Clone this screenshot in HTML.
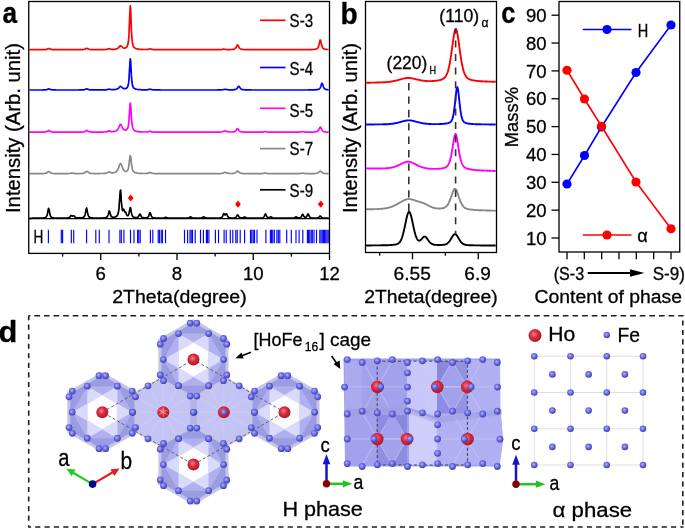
<!DOCTYPE html>
<html><head><meta charset="utf-8"><style>html,body{margin:0;padding:0;background:#fff;}svg{display:block;will-change:transform;}text{font-family:"Liberation Sans",sans-serif;stroke:#000;stroke-width:0.3px;}</style></head>
<body><svg width="685" height="528" viewBox="0 0 685 528">
<rect width="685" height="528" fill="#fff"/>
<polyline points="29.4,49.7 29.8,49.7 30.2,49.7 30.6,49.7 31.0,49.7 31.4,49.7 31.8,49.7 32.1,49.7 32.6,49.7 33.0,49.7 33.4,49.7 33.8,49.7 34.2,49.7 34.6,49.7 35.0,49.7 35.4,49.7 35.8,49.7 36.2,49.7 36.6,49.7 37.0,49.7 37.4,49.7 37.8,49.7 38.2,49.7 38.6,49.7 39.0,49.7 39.4,49.7 39.8,49.7 40.2,49.7 40.6,49.7 41.0,49.7 41.4,49.7 41.8,49.7 42.2,49.7 42.6,49.7 43.0,49.7 43.4,49.7 43.8,49.7 44.2,49.6 44.6,49.6 45.0,49.6 45.4,49.6 45.8,49.5 46.2,49.4 46.5,49.4 47.0,49.2 47.4,49.0 47.8,48.8 48.2,48.6 48.6,48.5 49.0,48.5 49.4,48.6 49.8,48.8 50.2,49.0 50.6,49.2 51.0,49.4 51.4,49.4 51.8,49.5 52.2,49.6 52.6,49.6 53.0,49.6 53.4,49.6 53.8,49.7 54.2,49.7 54.6,49.7 55.0,49.7 55.4,49.7 55.8,49.7 56.2,49.7 56.6,49.7 57.0,49.7 57.4,49.7 57.8,49.7 58.2,49.7 58.6,49.7 59.0,49.7 59.4,49.7 59.8,49.7 60.2,49.7 60.6,49.7 61.0,49.7 61.4,49.7 61.8,49.7 62.2,49.7 62.6,49.7 63.0,49.7 63.4,49.7 63.8,49.7 64.2,49.7 64.6,49.7 65.0,49.7 65.3,49.7 65.8,49.7 66.2,49.7 66.6,49.7 67.0,49.7 67.3,49.7 67.8,49.7 68.2,49.7 68.6,49.7 69.0,49.7 69.3,49.7 69.8,49.7 70.2,49.7 70.6,49.7 71.0,49.7 71.3,49.7 71.8,49.7 72.2,49.7 72.6,49.7 73.0,49.7 73.3,49.7 73.8,49.7 74.2,49.7 74.6,49.7 75.0,49.7 75.3,49.7 75.8,49.7 76.2,49.7 76.6,49.7 77.0,49.7 77.3,49.7 77.8,49.7 78.2,49.7 78.6,49.7 79.0,49.7 79.3,49.7 79.8,49.7 80.2,49.7 80.6,49.7 81.0,49.7 81.3,49.6 81.8,49.6 82.2,49.6 82.6,49.6 83.0,49.6 83.3,49.5 83.8,49.5 84.2,49.4 84.6,49.3 85.0,49.2 85.3,49.0 85.8,48.7 86.2,48.5 86.6,48.3 87.0,48.3 87.3,48.5 87.8,48.7 88.2,49.0 88.6,49.1 89.0,49.3 89.3,49.4 89.8,49.5 90.2,49.5 90.6,49.6 91.0,49.6 91.3,49.6 91.8,49.6 92.2,49.6 92.6,49.6 93.0,49.6 93.3,49.6 93.8,49.6 94.2,49.7 94.6,49.7 95.0,49.7 95.3,49.7 95.8,49.7 96.2,49.7 96.6,49.7 97.0,49.7 97.3,49.7 97.8,49.7 98.2,49.7 98.6,49.7 99.0,49.7 99.3,49.7 99.8,49.6 100.2,49.6 100.6,49.6 101.0,49.6 101.3,49.6 101.8,49.6 102.2,49.6 102.6,49.6 103.0,49.6 103.3,49.6 103.8,49.6 104.2,49.6 104.6,49.6 105.0,49.5 105.3,49.5 105.8,49.5 106.2,49.5 106.6,49.4 107.0,49.3 107.3,49.2 107.8,49.1 108.2,48.9 108.6,48.8 109.0,48.7 109.3,48.7 109.8,48.8 110.2,49.0 110.6,49.1 111.0,49.2 111.3,49.3 111.8,49.3 112.2,49.3 112.6,49.3 113.0,49.3 113.3,49.3 113.8,49.3 114.2,49.3 114.6,49.3 115.0,49.2 115.3,49.2 115.8,49.1 116.2,49.0 116.6,48.9 117.0,48.7 117.3,48.6 117.8,48.3 118.2,48.0 118.6,47.6 119.0,47.2 119.3,46.7 119.8,46.2 120.2,45.9 120.6,45.8 121.0,45.9 121.3,46.2 121.8,46.6 122.2,47.0 122.6,47.4 123.0,47.7 123.3,47.9 123.8,48.0 124.2,48.1 124.6,48.1 125.0,48.0 125.3,47.9 125.8,47.7 126.2,47.5 126.6,47.1 127.0,46.6 127.3,45.8 127.8,44.7 128.2,42.8 128.6,39.7 129.0,34.4 129.3,26.1 129.8,15.0 130.2,5.9 130.6,7.5 131.0,17.9 131.3,28.5 131.8,36.1 132.2,40.8 132.6,43.5 133.0,45.2 133.3,46.2 133.8,46.9 134.2,47.4 134.6,47.8 135.0,48.1 135.3,48.3 135.8,48.5 136.2,48.7 136.6,48.8 137.0,48.9 137.3,49.0 137.8,49.1 138.2,49.1 138.6,49.2 139.0,49.2 139.3,49.3 139.8,49.3 140.2,49.3 140.6,49.4 141.0,49.4 141.3,49.4 141.8,49.4 142.2,49.4 142.6,49.5 143.0,49.5 143.3,49.5 143.8,49.5 144.2,49.5 144.6,49.5 145.0,49.5 145.3,49.5 145.8,49.5 146.2,49.5 146.6,49.5 147.0,49.5 147.3,49.4 147.8,49.4 148.2,49.3 148.6,49.2 149.0,49.1 149.3,49.0 149.8,48.9 150.2,48.9 150.6,48.9 151.0,49.1 151.3,49.2 151.8,49.3 152.2,49.4 152.6,49.5 153.0,49.5 153.3,49.6 153.8,49.6 154.2,49.6 154.6,49.6 155.0,49.6 155.3,49.6 155.8,49.6 156.2,49.6 156.6,49.7 157.0,49.7 157.3,49.7 157.8,49.7 158.2,49.7 158.6,49.7 158.9,49.7 159.3,49.7 159.8,49.7 160.2,49.7 160.6,49.7 160.9,49.7 161.3,49.7 161.8,49.7 162.2,49.7 162.6,49.7 162.9,49.7 163.3,49.7 163.8,49.7 164.2,49.7 164.6,49.7 164.9,49.7 165.3,49.7 165.8,49.7 166.2,49.7 166.6,49.7 166.9,49.7 167.3,49.7 167.8,49.7 168.2,49.7 168.6,49.7 168.9,49.7 169.3,49.7 169.8,49.7 170.2,49.7 170.6,49.7 170.9,49.7 171.3,49.7 171.8,49.7 172.2,49.7 172.6,49.7 172.9,49.7 173.3,49.7 173.8,49.7 174.2,49.7 174.6,49.7 174.9,49.7 175.3,49.7 175.8,49.7 176.2,49.7 176.6,49.7 176.9,49.7 177.3,49.7 177.8,49.7 178.2,49.7 178.6,49.7 178.9,49.7 179.3,49.7 179.8,49.7 180.2,49.7 180.6,49.7 180.9,49.7 181.3,49.7 181.8,49.7 182.2,49.7 182.6,49.7 183.0,49.7 183.3,49.7 183.8,49.7 184.2,49.7 184.6,49.7 185.0,49.7 185.3,49.7 185.8,49.7 186.2,49.7 186.6,49.7 187.0,49.7 187.3,49.7 187.8,49.7 188.2,49.7 188.6,49.7 189.0,49.7 189.3,49.7 189.8,49.7 190.2,49.7 190.6,49.7 191.0,49.7 191.3,49.7 191.8,49.7 192.2,49.7 192.6,49.7 193.0,49.7 193.3,49.7 193.8,49.7 194.2,49.7 194.6,49.7 195.0,49.7 195.3,49.7 195.8,49.7 196.2,49.7 196.6,49.7 197.0,49.7 197.3,49.7 197.8,49.7 198.2,49.7 198.6,49.7 199.0,49.7 199.3,49.7 199.8,49.7 200.2,49.7 200.6,49.7 201.0,49.7 201.3,49.7 201.8,49.7 202.2,49.7 202.6,49.7 203.0,49.7 203.3,49.7 203.8,49.7 204.2,49.7 204.6,49.7 205.0,49.7 205.3,49.7 205.8,49.7 206.2,49.7 206.6,49.7 207.0,49.7 207.3,49.7 207.8,49.7 208.2,49.7 208.6,49.7 209.0,49.7 209.3,49.7 209.8,49.7 210.2,49.7 210.6,49.7 211.0,49.7 211.3,49.7 211.8,49.7 212.2,49.7 212.6,49.7 213.0,49.7 213.3,49.7 213.8,49.7 214.2,49.7 214.6,49.7 215.0,49.7 215.3,49.7 215.8,49.7 216.2,49.7 216.6,49.7 217.0,49.7 217.3,49.7 217.8,49.7 218.2,49.7 218.6,49.7 219.0,49.7 219.3,49.7 219.8,49.7 220.2,49.6 220.6,49.6 221.0,49.6 221.3,49.6 221.8,49.5 222.2,49.4 222.6,49.3 223.0,49.2 223.3,49.1 223.8,49.1 224.2,49.1 224.6,49.2 225.0,49.3 225.3,49.4 225.8,49.5 226.2,49.5 226.6,49.6 227.0,49.6 227.3,49.6 227.8,49.6 228.2,49.6 228.6,49.6 229.0,49.6 229.3,49.6 229.8,49.6 230.2,49.6 230.6,49.6 231.0,49.5 231.3,49.5 231.8,49.5 232.2,49.4 232.6,49.4 233.0,49.4 233.3,49.3 233.8,49.2 234.2,49.1 234.6,48.9 235.0,48.6 235.3,48.2 235.8,47.7 236.2,47.1 236.6,46.3 237.0,45.5 237.3,45.0 237.8,45.1 238.2,45.7 238.6,46.5 239.0,47.3 239.3,47.9 239.8,48.4 240.2,48.7 240.6,48.9 241.0,49.1 241.3,49.2 241.8,49.3 242.2,49.4 242.6,49.4 243.0,49.5 243.3,49.5 243.8,49.5 244.2,49.6 244.6,49.6 245.0,49.6 245.3,49.6 245.8,49.6 246.2,49.6 246.6,49.6 247.0,49.6 247.3,49.7 247.8,49.7 248.2,49.7 248.6,49.7 249.0,49.7 249.3,49.7 249.8,49.7 250.2,49.7 250.6,49.7 251.0,49.7 251.3,49.7 251.8,49.7 252.2,49.7 252.6,49.7 253.0,49.7 253.3,49.7 253.8,49.7 254.2,49.7 254.6,49.7 255.0,49.7 255.3,49.7 255.8,49.7 256.2,49.7 256.6,49.7 257.0,49.7 257.4,49.7 257.8,49.7 258.2,49.7 258.6,49.7 259.0,49.7 259.4,49.7 259.8,49.7 260.2,49.7 260.6,49.7 261.0,49.7 261.4,49.7 261.8,49.7 262.2,49.7 262.6,49.7 263.0,49.7 263.4,49.7 263.8,49.7 264.2,49.7 264.6,49.7 265.0,49.7 265.4,49.7 265.8,49.7 266.2,49.7 266.6,49.7 267.0,49.7 267.4,49.7 267.8,49.7 268.2,49.7 268.6,49.7 269.0,49.7 269.4,49.7 269.8,49.7 270.2,49.7 270.6,49.7 271.0,49.7 271.4,49.7 271.8,49.7 272.2,49.7 272.6,49.7 273.0,49.7 273.4,49.7 273.8,49.7 274.2,49.7 274.6,49.7 275.0,49.7 275.4,49.7 275.8,49.7 276.2,49.7 276.6,49.7 277.0,49.7 277.4,49.7 277.8,49.7 278.2,49.7 278.6,49.7 279.0,49.7 279.4,49.7 279.8,49.7 280.2,49.7 280.6,49.7 281.0,49.7 281.4,49.7 281.8,49.7 282.2,49.7 282.6,49.7 283.0,49.7 283.4,49.7 283.8,49.7 284.2,49.7 284.6,49.7 285.0,49.7 285.4,49.7 285.8,49.7 286.2,49.7 286.6,49.7 287.0,49.7 287.4,49.7 287.8,49.7 288.2,49.7 288.6,49.7 289.0,49.7 289.4,49.7 289.8,49.7 290.2,49.7 290.6,49.7 291.0,49.7 291.4,49.7 291.8,49.7 292.2,49.7 292.6,49.7 293.0,49.7 293.4,49.7 293.8,49.7 294.2,49.7 294.6,49.7 295.0,49.7 295.4,49.7 295.8,49.7 296.2,49.7 296.6,49.7 297.0,49.7 297.4,49.7 297.8,49.7 298.2,49.7 298.6,49.7 299.0,49.7 299.4,49.7 299.8,49.7 300.2,49.7 300.6,49.7 301.0,49.7 301.4,49.7 301.8,49.7 302.2,49.7 302.6,49.7 303.0,49.7 303.4,49.7 303.8,49.7 304.2,49.7 304.6,49.7 305.0,49.7 305.4,49.7 305.8,49.7 306.2,49.7 306.6,49.7 307.0,49.7 307.4,49.7 307.8,49.7 308.2,49.7 308.6,49.7 309.0,49.6 309.4,49.6 309.8,49.6 310.2,49.6 310.6,49.6 311.0,49.6 311.4,49.6 311.8,49.6 312.2,49.5 312.6,49.5 313.0,49.5 313.4,49.5 313.8,49.4 314.2,49.4 314.6,49.4 315.0,49.3 315.4,49.2 315.8,49.1 316.2,49.0 316.6,48.9 317.0,48.7 317.4,48.4 317.8,47.9 318.2,47.3 318.6,46.3 319.0,44.8 319.4,43.0 319.8,41.1 320.2,40.0 320.6,40.4 321.0,42.1 321.4,44.0 321.8,45.6 322.2,46.8 322.6,47.6 323.0,48.2 323.4,48.5 323.8,48.8 324.2,49.0 324.6,49.1 325.0,49.2 325.4,49.3 325.8,49.3 326.2,49.4 326.6,49.4 327.0,49.5 327.4,49.5 327.8,49.5 328.2,49.5 328.6,49.6" fill="none" stroke="#ff0000" stroke-width="1.7" stroke-linejoin="round"/>
<polyline points="29.4,90.0 29.8,90.0 30.2,90.0 30.6,90.0 31.0,90.0 31.4,90.0 31.8,90.0 32.1,90.0 32.6,90.0 33.0,90.0 33.4,90.0 33.8,90.0 34.2,90.0 34.6,90.0 35.0,90.0 35.4,90.0 35.8,90.0 36.2,90.0 36.6,90.0 37.0,90.0 37.4,90.0 37.8,90.0 38.2,90.0 38.6,90.0 39.0,90.0 39.4,90.0 39.8,90.0 40.2,90.0 40.6,90.0 41.0,90.0 41.4,90.0 41.8,90.0 42.2,90.0 42.6,89.9 43.0,89.9 43.4,89.9 43.8,89.9 44.2,89.9 44.6,89.9 45.0,89.9 45.4,89.8 45.8,89.8 46.2,89.7 46.5,89.7 47.0,89.6 47.4,89.4 47.8,89.2 48.2,89.0 48.6,88.9 49.0,88.9 49.4,89.0 49.8,89.2 50.2,89.4 50.6,89.5 51.0,89.7 51.4,89.7 51.8,89.8 52.2,89.8 52.6,89.9 53.0,89.9 53.4,89.9 53.8,89.9 54.2,89.9 54.6,89.9 55.0,89.9 55.4,89.9 55.8,90.0 56.2,90.0 56.6,90.0 57.0,90.0 57.4,90.0 57.8,90.0 58.2,90.0 58.6,90.0 59.0,90.0 59.4,90.0 59.8,90.0 60.2,90.0 60.6,90.0 61.0,90.0 61.4,90.0 61.8,90.0 62.2,90.0 62.6,90.0 63.0,90.0 63.4,90.0 63.8,90.0 64.2,90.0 64.6,90.0 65.0,90.0 65.3,90.0 65.8,90.0 66.2,90.0 66.6,90.0 67.0,90.0 67.3,90.0 67.8,90.0 68.2,90.0 68.6,90.0 69.0,90.0 69.3,90.0 69.8,90.0 70.2,90.0 70.6,90.0 71.0,90.0 71.3,90.0 71.8,90.0 72.2,90.0 72.6,90.0 73.0,90.0 73.3,90.0 73.8,90.0 74.2,90.0 74.6,90.0 75.0,90.0 75.3,90.0 75.8,90.0 76.2,90.0 76.6,90.0 77.0,90.0 77.3,90.0 77.8,90.0 78.2,90.0 78.6,90.0 79.0,89.9 79.3,89.9 79.8,89.9 80.2,89.9 80.6,89.9 81.0,89.9 81.3,89.9 81.8,89.9 82.2,89.9 82.6,89.9 83.0,89.9 83.3,89.8 83.8,89.8 84.2,89.7 84.6,89.6 85.0,89.5 85.3,89.4 85.8,89.2 86.2,89.0 86.6,88.9 87.0,88.9 87.3,89.0 87.8,89.2 88.2,89.4 88.6,89.5 89.0,89.6 89.3,89.7 89.8,89.8 90.2,89.8 90.6,89.8 91.0,89.9 91.3,89.9 91.8,89.9 92.2,89.9 92.6,89.9 93.0,89.9 93.3,89.9 93.8,89.9 94.2,89.9 94.6,89.9 95.0,89.9 95.3,89.9 95.8,89.9 96.2,89.9 96.6,89.9 97.0,89.9 97.3,89.9 97.8,89.9 98.2,89.9 98.6,89.9 99.0,89.9 99.3,89.9 99.8,89.9 100.2,89.9 100.6,89.9 101.0,89.9 101.3,89.9 101.8,89.9 102.2,89.9 102.6,89.9 103.0,89.9 103.3,89.9 103.8,89.9 104.2,89.9 104.6,89.9 105.0,89.8 105.3,89.8 105.8,89.8 106.2,89.8 106.6,89.7 107.0,89.7 107.3,89.6 107.8,89.5 108.2,89.3 108.6,89.2 109.0,89.2 109.3,89.2 109.8,89.3 110.2,89.4 110.6,89.5 111.0,89.6 111.3,89.6 111.8,89.6 112.2,89.7 112.6,89.7 113.0,89.7 113.3,89.6 113.8,89.6 114.2,89.6 114.6,89.6 115.0,89.5 115.3,89.5 115.8,89.4 116.2,89.3 116.6,89.2 117.0,89.1 117.3,88.9 117.8,88.7 118.2,88.4 118.6,88.1 119.0,87.6 119.3,87.2 119.8,86.8 120.2,86.4 120.6,86.3 121.0,86.5 121.3,86.8 121.8,87.2 122.2,87.6 122.6,87.9 123.0,88.2 123.3,88.4 123.8,88.6 124.2,88.6 124.6,88.7 125.0,88.7 125.3,88.6 125.8,88.5 126.2,88.3 126.6,88.0 127.0,87.7 127.3,87.2 127.8,86.4 128.2,85.1 128.6,82.9 129.0,79.1 129.3,73.2 129.8,65.3 130.2,58.9 130.6,60.0 131.0,67.4 131.3,74.9 131.8,80.3 132.2,83.6 132.6,85.6 133.0,86.7 133.3,87.5 133.8,88.0 134.2,88.3 134.6,88.6 135.0,88.8 135.3,89.0 135.8,89.1 136.2,89.2 136.6,89.3 137.0,89.4 137.3,89.5 137.8,89.5 138.2,89.5 138.6,89.6 139.0,89.6 139.3,89.7 139.8,89.7 140.2,89.7 140.6,89.7 141.0,89.7 141.3,89.8 141.8,89.8 142.2,89.8 142.6,89.8 143.0,89.8 143.3,89.8 143.8,89.8 144.2,89.8 144.6,89.8 145.0,89.8 145.3,89.8 145.8,89.8 146.2,89.8 146.6,89.8 147.0,89.8 147.3,89.7 147.8,89.7 148.2,89.6 148.6,89.5 149.0,89.4 149.3,89.3 149.8,89.2 150.2,89.2 150.6,89.3 151.0,89.4 151.3,89.5 151.8,89.6 152.2,89.7 152.6,89.8 153.0,89.8 153.3,89.8 153.8,89.9 154.2,89.9 154.6,89.9 155.0,89.9 155.3,89.9 155.8,89.9 156.2,89.9 156.6,89.9 157.0,89.9 157.3,89.9 157.8,89.9 158.2,89.9 158.6,89.9 158.9,89.9 159.3,89.9 159.8,89.9 160.2,89.9 160.6,90.0 160.9,90.0 161.3,90.0 161.8,90.0 162.2,90.0 162.6,90.0 162.9,90.0 163.3,90.0 163.8,90.0 164.2,90.0 164.6,90.0 164.9,90.0 165.3,90.0 165.8,90.0 166.2,90.0 166.6,90.0 166.9,90.0 167.3,90.0 167.8,90.0 168.2,90.0 168.6,90.0 168.9,90.0 169.3,90.0 169.8,90.0 170.2,90.0 170.6,90.0 170.9,90.0 171.3,90.0 171.8,90.0 172.2,90.0 172.6,90.0 172.9,90.0 173.3,90.0 173.8,90.0 174.2,90.0 174.6,90.0 174.9,90.0 175.3,90.0 175.8,90.0 176.2,90.0 176.6,90.0 176.9,90.0 177.3,90.0 177.8,90.0 178.2,90.0 178.6,90.0 178.9,90.0 179.3,90.0 179.8,90.0 180.2,90.0 180.6,90.0 180.9,90.0 181.3,90.0 181.8,90.0 182.2,90.0 182.6,90.0 183.0,90.0 183.3,90.0 183.8,90.0 184.2,90.0 184.6,90.0 185.0,90.0 185.3,90.0 185.8,90.0 186.2,90.0 186.6,90.0 187.0,90.0 187.3,90.0 187.8,90.0 188.2,90.0 188.6,90.0 189.0,90.0 189.3,90.0 189.8,90.0 190.2,90.0 190.6,90.0 191.0,90.0 191.3,90.0 191.8,90.0 192.2,90.0 192.6,90.0 193.0,90.0 193.3,90.0 193.8,90.0 194.2,90.0 194.6,90.0 195.0,90.0 195.3,90.0 195.8,90.0 196.2,90.0 196.6,90.0 197.0,90.0 197.3,90.0 197.8,90.0 198.2,90.0 198.6,90.0 199.0,90.0 199.3,90.0 199.8,90.0 200.2,90.0 200.6,90.0 201.0,90.0 201.3,90.0 201.8,90.0 202.2,90.0 202.6,90.0 203.0,90.0 203.3,90.0 203.8,90.0 204.2,90.0 204.6,90.0 205.0,90.0 205.3,90.0 205.8,90.0 206.2,90.0 206.6,90.0 207.0,90.0 207.3,90.0 207.8,90.0 208.2,90.0 208.6,90.0 209.0,90.0 209.3,90.0 209.8,90.0 210.2,90.0 210.6,90.0 211.0,90.0 211.3,90.0 211.8,90.0 212.2,90.0 212.6,90.0 213.0,90.0 213.3,90.0 213.8,90.0 214.2,90.0 214.6,90.0 215.0,90.0 215.3,90.0 215.8,90.0 216.2,90.0 216.6,90.0 217.0,90.0 217.3,89.9 217.8,89.9 218.2,89.9 218.6,89.9 219.0,89.9 219.3,89.9 219.8,89.9 220.2,89.9 220.6,89.9 221.0,89.9 221.3,89.8 221.8,89.8 222.2,89.8 222.6,89.7 223.0,89.7 223.3,89.6 223.8,89.5 224.2,89.5 224.6,89.4 225.0,89.4 225.3,89.4 225.8,89.4 226.2,89.5 226.6,89.6 227.0,89.6 227.3,89.7 227.8,89.7 228.2,89.8 228.6,89.8 229.0,89.8 229.3,89.8 229.8,89.8 230.2,89.8 230.6,89.8 231.0,89.8 231.3,89.8 231.8,89.8 232.2,89.8 232.6,89.8 233.0,89.8 233.3,89.8 233.8,89.7 234.2,89.7 234.6,89.6 235.0,89.6 235.3,89.5 235.8,89.3 236.2,89.1 236.6,88.9 237.0,88.5 237.3,88.0 237.8,87.4 238.2,86.8 238.6,86.3 239.0,86.3 239.3,86.8 239.8,87.4 240.2,88.0 240.6,88.5 241.0,88.9 241.3,89.2 241.8,89.4 242.2,89.5 242.6,89.6 243.0,89.7 243.3,89.7 243.8,89.7 244.2,89.8 244.6,89.8 245.0,89.8 245.3,89.8 245.8,89.9 246.2,89.9 246.6,89.9 247.0,89.9 247.3,89.9 247.8,89.9 248.2,89.9 248.6,89.9 249.0,89.9 249.3,89.9 249.8,89.9 250.2,89.9 250.6,89.9 251.0,89.9 251.3,90.0 251.8,90.0 252.2,90.0 252.6,90.0 253.0,90.0 253.3,90.0 253.8,90.0 254.2,90.0 254.6,90.0 255.0,90.0 255.3,90.0 255.8,90.0 256.2,90.0 256.6,90.0 257.0,90.0 257.4,90.0 257.8,90.0 258.2,90.0 258.6,90.0 259.0,90.0 259.4,90.0 259.8,90.0 260.2,90.0 260.6,90.0 261.0,90.0 261.4,90.0 261.8,90.0 262.2,90.0 262.6,90.0 263.0,90.0 263.4,90.0 263.8,90.0 264.2,90.0 264.6,90.0 265.0,90.0 265.4,90.0 265.8,90.0 266.2,90.0 266.6,90.0 267.0,90.0 267.4,90.0 267.8,90.0 268.2,90.0 268.6,90.0 269.0,90.0 269.4,90.0 269.8,90.0 270.2,90.0 270.6,90.0 271.0,90.0 271.4,90.0 271.8,90.0 272.2,90.0 272.6,90.0 273.0,90.0 273.4,90.0 273.8,90.0 274.2,90.0 274.6,90.0 275.0,90.0 275.4,90.0 275.8,90.0 276.2,90.0 276.6,90.0 277.0,90.0 277.4,90.0 277.8,90.0 278.2,90.0 278.6,90.0 279.0,90.0 279.4,90.0 279.8,90.0 280.2,90.0 280.6,90.0 281.0,90.0 281.4,90.0 281.8,90.0 282.2,90.0 282.6,90.0 283.0,90.0 283.4,90.0 283.8,90.0 284.2,90.0 284.6,90.0 285.0,90.0 285.4,90.0 285.8,90.0 286.2,90.0 286.6,90.0 287.0,90.0 287.4,90.0 287.8,90.0 288.2,90.0 288.6,90.0 289.0,90.0 289.4,90.0 289.8,90.0 290.2,90.0 290.6,90.0 291.0,90.0 291.4,90.0 291.8,90.0 292.2,90.0 292.6,90.0 293.0,90.0 293.4,90.0 293.8,90.0 294.2,90.0 294.6,90.0 295.0,90.0 295.4,90.0 295.8,90.0 296.2,90.0 296.6,90.0 297.0,90.0 297.4,90.0 297.8,90.0 298.2,90.0 298.6,90.0 299.0,90.0 299.4,90.0 299.8,90.0 300.2,90.0 300.6,90.0 301.0,90.0 301.4,90.0 301.8,90.0 302.2,90.0 302.6,90.0 303.0,90.0 303.4,90.0 303.8,90.0 304.2,90.0 304.6,90.0 305.0,90.0 305.4,90.0 305.8,90.0 306.2,90.0 306.6,90.0 307.0,90.0 307.4,90.0 307.8,90.0 308.2,89.9 308.6,89.9 309.0,89.9 309.4,89.9 309.8,89.9 310.2,89.9 310.6,89.9 311.0,89.9 311.4,89.9 311.8,89.9 312.2,89.9 312.6,89.9 313.0,89.9 313.4,89.9 313.8,89.9 314.2,89.9 314.6,89.8 315.0,89.8 315.4,89.8 315.8,89.8 316.2,89.7 316.6,89.7 317.0,89.7 317.4,89.6 317.8,89.5 318.2,89.4 318.6,89.3 319.0,89.1 319.4,88.9 319.8,88.5 320.2,87.9 320.6,87.0 321.0,85.8 321.4,84.5 321.8,83.4 322.2,83.3 322.6,84.2 323.0,85.5 323.4,86.7 323.8,87.7 324.2,88.3 324.6,88.8 325.0,89.1 325.4,89.3 325.8,89.4 326.2,89.5 326.6,89.6 327.0,89.6 327.4,89.7 327.8,89.7 328.2,89.8 328.6,89.8" fill="none" stroke="#0000ff" stroke-width="1.7" stroke-linejoin="round"/>
<polyline points="29.4,132.2 29.8,132.2 30.2,132.2 30.6,132.2 31.0,132.2 31.4,132.2 31.8,132.2 32.1,132.2 32.6,132.2 33.0,132.2 33.4,132.2 33.8,132.2 34.2,132.2 34.6,132.2 35.0,132.2 35.4,132.2 35.8,132.2 36.2,132.2 36.6,132.2 37.0,132.2 37.4,132.2 37.8,132.2 38.2,132.2 38.6,132.2 39.0,132.2 39.4,132.2 39.8,132.2 40.2,132.2 40.6,132.2 41.0,132.2 41.4,132.2 41.8,132.2 42.2,132.2 42.6,132.2 43.0,132.1 43.4,132.1 43.8,132.1 44.2,132.1 44.6,132.1 45.0,132.0 45.4,132.0 45.8,131.9 46.2,131.8 46.5,131.7 47.0,131.5 47.4,131.3 47.8,131.0 48.2,130.7 48.6,130.5 49.0,130.5 49.4,130.7 49.8,131.0 50.2,131.3 50.6,131.5 51.0,131.7 51.4,131.8 51.8,131.9 52.2,132.0 52.6,132.0 53.0,132.1 53.4,132.1 53.8,132.1 54.2,132.1 54.6,132.1 55.0,132.2 55.4,132.2 55.8,132.2 56.2,132.2 56.6,132.2 57.0,132.2 57.4,132.2 57.8,132.2 58.2,132.2 58.6,132.2 59.0,132.2 59.4,132.2 59.8,132.2 60.2,132.2 60.6,132.2 61.0,132.2 61.4,132.2 61.8,132.2 62.2,132.2 62.6,132.2 63.0,132.2 63.4,132.2 63.8,132.2 64.2,132.2 64.6,132.2 65.0,132.2 65.3,132.2 65.8,132.2 66.2,132.2 66.6,132.2 67.0,132.2 67.3,132.2 67.8,132.2 68.2,132.2 68.6,132.2 69.0,132.2 69.3,132.2 69.8,132.2 70.2,132.2 70.6,132.2 71.0,132.2 71.3,132.2 71.8,132.2 72.2,132.2 72.6,132.2 73.0,132.2 73.3,132.2 73.8,132.2 74.2,132.2 74.6,132.2 75.0,132.2 75.3,132.2 75.8,132.2 76.2,132.2 76.6,132.2 77.0,132.2 77.3,132.2 77.8,132.2 78.2,132.2 78.6,132.2 79.0,132.2 79.3,132.2 79.8,132.2 80.2,132.1 80.6,132.1 81.0,132.1 81.3,132.1 81.8,132.1 82.2,132.1 82.6,132.0 83.0,132.0 83.3,132.0 83.8,131.9 84.2,131.8 84.6,131.7 85.0,131.5 85.3,131.2 85.8,130.9 86.2,130.6 86.6,130.4 87.0,130.4 87.3,130.6 87.8,130.9 88.2,131.2 88.6,131.5 89.0,131.7 89.3,131.8 89.8,131.9 90.2,131.9 90.6,132.0 91.0,132.0 91.3,132.1 91.8,132.1 92.2,132.1 92.6,132.1 93.0,132.1 93.3,132.1 93.8,132.1 94.2,132.1 94.6,132.1 95.0,132.1 95.3,132.1 95.8,132.1 96.2,132.1 96.6,132.1 97.0,132.1 97.3,132.1 97.8,132.1 98.2,132.1 98.6,132.1 99.0,132.1 99.3,132.1 99.8,132.1 100.2,132.1 100.6,132.1 101.0,132.1 101.3,132.1 101.8,132.1 102.2,132.1 102.6,132.1 103.0,132.1 103.3,132.0 103.8,132.0 104.2,132.0 104.6,132.0 105.0,132.0 105.3,131.9 105.8,131.9 106.2,131.9 106.6,131.8 107.0,131.7 107.3,131.5 107.8,131.4 108.2,131.2 108.6,131.0 109.0,130.9 109.3,130.9 109.8,131.1 110.2,131.2 110.6,131.4 111.0,131.5 111.3,131.6 111.8,131.6 112.2,131.6 112.6,131.6 113.0,131.6 113.3,131.6 113.8,131.5 114.2,131.5 114.6,131.4 115.0,131.3 115.3,131.2 115.8,131.0 116.2,130.8 116.6,130.6 117.0,130.3 117.3,129.9 117.8,129.3 118.2,128.7 118.6,127.9 119.0,127.0 119.3,126.1 119.8,125.2 120.2,124.5 120.6,124.3 121.0,124.6 121.3,125.3 121.8,126.2 122.2,127.1 122.6,127.9 123.0,128.5 123.3,129.1 123.8,129.5 124.2,129.8 124.6,130.0 125.0,130.1 125.3,130.1 125.8,130.1 126.2,129.9 126.6,129.7 127.0,129.3 127.3,128.8 127.8,127.9 128.2,126.5 128.6,124.1 129.0,120.4 129.3,114.9 129.8,108.1 130.2,103.0 130.6,103.9 131.0,109.9 131.3,116.5 131.8,121.6 132.2,125.1 132.6,127.2 133.0,128.5 133.3,129.3 133.8,129.9 134.2,130.3 134.6,130.6 135.0,130.9 135.3,131.0 135.8,131.2 136.2,131.3 136.6,131.4 137.0,131.5 137.3,131.6 137.8,131.6 138.2,131.7 138.6,131.7 139.0,131.8 139.3,131.8 139.8,131.8 140.2,131.9 140.6,131.9 141.0,131.9 141.3,131.9 141.8,131.9 142.2,132.0 142.6,132.0 143.0,132.0 143.3,132.0 143.8,132.0 144.2,132.0 144.6,132.0 145.0,132.0 145.3,132.0 145.8,132.0 146.2,132.0 146.6,132.0 147.0,132.0 147.3,131.9 147.8,131.9 148.2,131.8 148.6,131.7 149.0,131.5 149.3,131.4 149.8,131.3 150.2,131.3 150.6,131.3 151.0,131.5 151.3,131.7 151.8,131.8 152.2,131.9 152.6,132.0 153.0,132.0 153.3,132.0 153.8,132.1 154.2,132.1 154.6,132.1 155.0,132.1 155.3,132.1 155.8,132.1 156.2,132.1 156.6,132.1 157.0,132.2 157.3,132.2 157.8,132.2 158.2,132.2 158.6,132.2 158.9,132.2 159.3,132.2 159.8,132.2 160.2,132.2 160.6,132.2 160.9,132.2 161.3,132.2 161.8,132.2 162.2,132.2 162.6,132.2 162.9,132.2 163.3,132.2 163.8,132.2 164.2,132.2 164.6,132.2 164.9,132.2 165.3,132.2 165.8,132.2 166.2,132.2 166.6,132.2 166.9,132.2 167.3,132.2 167.8,132.2 168.2,132.2 168.6,132.2 168.9,132.2 169.3,132.2 169.8,132.2 170.2,132.2 170.6,132.2 170.9,132.2 171.3,132.2 171.8,132.2 172.2,132.2 172.6,132.2 172.9,132.2 173.3,132.2 173.8,132.2 174.2,132.2 174.6,132.2 174.9,132.2 175.3,132.2 175.8,132.2 176.2,132.2 176.6,132.2 176.9,132.2 177.3,132.2 177.8,132.2 178.2,132.2 178.6,132.2 178.9,132.2 179.3,132.2 179.8,132.2 180.2,132.2 180.6,132.2 180.9,132.2 181.3,132.2 181.8,132.2 182.2,132.2 182.6,132.2 183.0,132.2 183.3,132.2 183.8,132.2 184.2,132.2 184.6,132.2 185.0,132.2 185.3,132.2 185.8,132.2 186.2,132.2 186.6,132.2 187.0,132.2 187.3,132.2 187.8,132.2 188.2,132.2 188.6,132.2 189.0,132.2 189.3,132.2 189.8,132.2 190.2,132.2 190.6,132.2 191.0,132.2 191.3,132.2 191.8,132.2 192.2,132.2 192.6,132.2 193.0,132.2 193.3,132.2 193.8,132.2 194.2,132.2 194.6,132.2 195.0,132.2 195.3,132.2 195.8,132.2 196.2,132.2 196.6,132.2 197.0,132.2 197.3,132.2 197.8,132.2 198.2,132.2 198.6,132.2 199.0,132.2 199.3,132.2 199.8,132.2 200.2,132.2 200.6,132.2 201.0,132.2 201.3,132.2 201.8,132.2 202.2,132.2 202.6,132.2 203.0,132.2 203.3,132.2 203.8,132.2 204.2,132.2 204.6,132.2 205.0,132.2 205.3,132.2 205.8,132.2 206.2,132.2 206.6,132.2 207.0,132.2 207.3,132.2 207.8,132.2 208.2,132.2 208.6,132.2 209.0,132.2 209.3,132.2 209.8,132.2 210.2,132.2 210.6,132.2 211.0,132.2 211.3,132.2 211.8,132.2 212.2,132.2 212.6,132.2 213.0,132.2 213.3,132.2 213.8,132.2 214.2,132.2 214.6,132.2 215.0,132.2 215.3,132.2 215.8,132.2 216.2,132.2 216.6,132.2 217.0,132.2 217.3,132.2 217.8,132.2 218.2,132.1 218.6,132.1 219.0,132.1 219.3,132.1 219.8,132.1 220.2,132.1 220.6,132.0 221.0,132.0 221.3,132.0 221.8,131.9 222.2,131.8 222.6,131.7 223.0,131.6 223.3,131.4 223.8,131.3 224.2,131.1 224.6,131.0 225.0,130.9 225.3,130.9 225.8,131.0 226.2,131.2 226.6,131.4 227.0,131.5 227.3,131.6 227.8,131.7 228.2,131.8 228.6,131.9 229.0,131.9 229.3,132.0 229.8,132.0 230.2,132.0 230.6,132.0 231.0,132.0 231.3,132.0 231.8,132.0 232.2,132.0 232.6,131.9 233.0,131.9 233.3,131.8 233.8,131.8 234.2,131.7 234.6,131.6 235.0,131.4 235.3,131.1 235.8,130.7 236.2,130.2 236.6,129.6 237.0,129.0 237.3,128.6 237.8,128.7 238.2,129.2 238.6,129.8 239.0,130.4 239.3,130.8 239.8,131.2 240.2,131.4 240.6,131.6 241.0,131.7 241.3,131.8 241.8,131.9 242.2,132.0 242.6,132.0 243.0,132.0 243.3,132.1 243.8,132.1 244.2,132.1 244.6,132.1 245.0,132.1 245.3,132.1 245.8,132.1 246.2,132.1 246.6,132.2 247.0,132.2 247.3,132.2 247.8,132.2 248.2,132.2 248.6,132.2 249.0,132.2 249.3,132.2 249.8,132.2 250.2,132.2 250.6,132.2 251.0,132.2 251.3,132.2 251.8,132.2 252.2,132.2 252.6,132.2 253.0,132.2 253.3,132.2 253.8,132.2 254.2,132.2 254.6,132.2 255.0,132.2 255.3,132.2 255.8,132.2 256.2,132.2 256.6,132.2 257.0,132.2 257.4,132.2 257.8,132.2 258.2,132.2 258.6,132.2 259.0,132.2 259.4,132.2 259.8,132.2 260.2,132.2 260.6,132.2 261.0,132.2 261.4,132.1 261.8,132.1 262.2,132.1 262.6,132.1 263.0,132.0 263.4,131.9 263.8,131.8 264.2,131.7 264.6,131.6 265.0,131.5 265.4,131.6 265.8,131.7 266.2,131.8 266.6,131.9 267.0,132.0 267.4,132.0 267.8,132.1 268.2,132.1 268.6,132.1 269.0,132.2 269.4,132.2 269.8,132.2 270.2,132.2 270.6,132.2 271.0,132.2 271.4,132.2 271.8,132.2 272.2,132.2 272.6,132.2 273.0,132.2 273.4,132.2 273.8,132.2 274.2,132.2 274.6,132.2 275.0,132.2 275.4,132.2 275.8,132.2 276.2,132.2 276.6,132.2 277.0,132.2 277.4,132.2 277.8,132.2 278.2,132.2 278.6,132.2 279.0,132.2 279.4,132.2 279.8,132.2 280.2,132.2 280.6,132.2 281.0,132.2 281.4,132.2 281.8,132.2 282.2,132.2 282.6,132.2 283.0,132.2 283.4,132.2 283.8,132.2 284.2,132.2 284.6,132.2 285.0,132.2 285.4,132.2 285.8,132.2 286.2,132.2 286.6,132.2 287.0,132.2 287.4,132.2 287.8,132.2 288.2,132.2 288.6,132.2 289.0,132.2 289.4,132.2 289.8,132.2 290.2,132.2 290.6,132.2 291.0,132.2 291.4,132.2 291.8,132.2 292.2,132.2 292.6,132.2 293.0,132.2 293.4,132.2 293.8,132.2 294.2,132.2 294.6,132.2 295.0,132.2 295.4,132.2 295.8,132.2 296.2,132.2 296.6,132.2 297.0,132.2 297.4,132.2 297.8,132.2 298.2,132.2 298.6,132.2 299.0,132.1 299.4,132.1 299.8,132.1 300.2,132.0 300.6,132.0 301.0,131.9 301.4,131.8 301.8,131.7 302.2,131.6 302.6,131.5 303.0,131.6 303.4,131.7 303.8,131.8 304.2,131.9 304.6,132.0 305.0,132.0 305.4,132.1 305.8,132.1 306.2,132.1 306.6,132.1 307.0,132.1 307.4,132.1 307.8,132.1 308.2,132.1 308.6,132.1 309.0,132.1 309.4,132.1 309.8,132.1 310.2,132.1 310.6,132.1 311.0,132.1 311.4,132.1 311.8,132.1 312.2,132.1 312.6,132.1 313.0,132.1 313.4,132.0 313.8,132.0 314.2,132.0 314.6,132.0 315.0,131.9 315.4,131.9 315.8,131.8 316.2,131.7 316.6,131.6 317.0,131.5 317.4,131.3 317.8,131.0 318.2,130.6 318.6,130.0 319.0,129.2 319.4,128.4 319.8,127.5 320.2,127.1 320.6,127.2 321.0,127.9 321.4,128.8 321.8,129.6 322.2,130.3 322.6,130.8 323.0,131.2 323.4,131.4 323.8,131.6 324.2,131.7 324.6,131.8 325.0,131.9 325.4,131.9 325.8,132.0 326.2,132.0 326.6,132.0 327.0,132.0 327.4,132.1 327.8,132.1 328.2,132.1 328.6,132.1" fill="none" stroke="#ff00ff" stroke-width="1.7" stroke-linejoin="round"/>
<polyline points="29.4,173.7 29.8,173.7 30.2,173.7 30.6,173.7 31.0,173.7 31.4,173.7 31.8,173.7 32.1,173.7 32.6,173.7 33.0,173.7 33.4,173.7 33.8,173.7 34.2,173.7 34.6,173.7 35.0,173.7 35.4,173.7 35.8,173.7 36.2,173.7 36.6,173.7 37.0,173.7 37.4,173.7 37.8,173.7 38.2,173.7 38.6,173.7 39.0,173.7 39.4,173.7 39.8,173.7 40.2,173.7 40.6,173.7 41.0,173.7 41.4,173.6 41.8,173.6 42.2,173.6 42.6,173.6 43.0,173.6 43.4,173.6 43.8,173.5 44.2,173.5 44.6,173.5 45.0,173.4 45.4,173.3 45.8,173.2 46.2,173.1 46.5,172.9 47.0,172.7 47.4,172.4 47.8,172.1 48.2,171.7 48.6,171.6 49.0,171.6 49.4,171.7 49.8,172.1 50.2,172.4 50.6,172.7 51.0,172.9 51.4,173.1 51.8,173.2 52.2,173.3 52.6,173.4 53.0,173.5 53.4,173.5 53.8,173.5 54.2,173.6 54.6,173.6 55.0,173.6 55.4,173.6 55.8,173.6 56.2,173.6 56.6,173.6 57.0,173.6 57.4,173.6 57.8,173.7 58.2,173.7 58.6,173.7 59.0,173.7 59.4,173.7 59.8,173.7 60.2,173.7 60.6,173.7 61.0,173.7 61.4,173.7 61.8,173.7 62.2,173.7 62.6,173.7 63.0,173.7 63.4,173.7 63.8,173.7 64.2,173.7 64.6,173.7 65.0,173.7 65.3,173.7 65.8,173.6 66.2,173.6 66.6,173.6 67.0,173.6 67.3,173.6 67.8,173.6 68.2,173.6 68.6,173.5 69.0,173.5 69.3,173.5 69.8,173.4 70.2,173.3 70.6,173.2 71.0,173.2 71.3,173.1 71.8,173.1 72.2,173.1 72.6,173.2 73.0,173.2 73.3,173.3 73.8,173.4 74.2,173.4 74.6,173.5 75.0,173.5 75.3,173.5 75.8,173.6 76.2,173.6 76.6,173.6 77.0,173.6 77.3,173.6 77.8,173.6 78.2,173.6 78.6,173.6 79.0,173.6 79.3,173.6 79.8,173.6 80.2,173.6 80.6,173.5 81.0,173.5 81.3,173.5 81.8,173.5 82.2,173.4 82.6,173.4 83.0,173.3 83.3,173.3 83.8,173.2 84.2,173.0 84.6,172.8 85.0,172.6 85.3,172.3 85.8,171.9 86.2,171.6 86.6,171.4 87.0,171.4 87.3,171.6 87.8,171.9 88.2,172.3 88.6,172.6 89.0,172.8 89.3,173.0 89.8,173.1 90.2,173.3 90.6,173.3 91.0,173.4 91.3,173.4 91.8,173.5 92.2,173.5 92.6,173.5 93.0,173.5 93.3,173.5 93.8,173.5 94.2,173.6 94.6,173.6 95.0,173.6 95.3,173.6 95.8,173.6 96.2,173.6 96.6,173.6 97.0,173.6 97.3,173.6 97.8,173.6 98.2,173.6 98.6,173.6 99.0,173.6 99.3,173.6 99.8,173.6 100.2,173.5 100.6,173.5 101.0,173.5 101.3,173.5 101.8,173.5 102.2,173.5 102.6,173.5 103.0,173.5 103.3,173.5 103.8,173.4 104.2,173.4 104.6,173.4 105.0,173.3 105.3,173.3 105.8,173.2 106.2,173.1 106.6,173.0 107.0,172.9 107.3,172.7 107.8,172.5 108.2,172.3 108.6,172.1 109.0,172.0 109.3,172.0 109.8,172.1 110.2,172.3 110.6,172.5 111.0,172.6 111.3,172.7 111.8,172.8 112.2,172.8 112.6,172.8 113.0,172.8 113.3,172.7 113.8,172.7 114.2,172.6 114.6,172.5 115.0,172.3 115.3,172.2 115.8,171.9 116.2,171.6 116.6,171.3 117.0,170.8 117.3,170.2 117.8,169.5 118.2,168.7 118.6,167.7 119.0,166.6 119.3,165.4 119.8,164.4 120.2,163.7 120.6,163.5 121.0,163.8 121.3,164.6 121.8,165.6 122.2,166.7 122.6,167.7 123.0,168.7 123.3,169.4 123.8,170.1 124.2,170.5 124.6,170.9 125.0,171.2 125.3,171.3 125.8,171.4 126.2,171.4 126.6,171.3 127.0,171.1 127.3,170.7 127.8,170.0 128.2,169.0 128.6,167.4 129.0,165.0 129.3,161.8 129.8,158.2 130.2,155.7 130.6,156.2 131.0,159.2 131.3,162.9 131.8,165.9 132.2,168.2 132.6,169.7 133.0,170.7 133.3,171.4 133.8,171.8 134.2,172.1 134.6,172.4 135.0,172.6 135.3,172.7 135.8,172.8 136.2,172.9 136.6,173.0 137.0,173.1 137.3,173.1 137.8,173.2 138.2,173.2 138.6,173.3 139.0,173.3 139.3,173.3 139.8,173.4 140.2,173.4 140.6,173.4 141.0,173.4 141.3,173.4 141.8,173.4 142.2,173.5 142.6,173.5 143.0,173.5 143.3,173.5 143.8,173.5 144.2,173.5 144.6,173.5 145.0,173.5 145.3,173.5 145.8,173.5 146.2,173.4 146.6,173.4 147.0,173.4 147.3,173.3 147.8,173.2 148.2,173.1 148.6,173.0 149.0,172.8 149.3,172.7 149.8,172.6 150.2,172.5 150.6,172.6 151.0,172.8 151.3,173.0 151.8,173.1 152.2,173.2 152.6,173.3 153.0,173.4 153.3,173.5 153.8,173.5 154.2,173.5 154.6,173.6 155.0,173.6 155.3,173.6 155.8,173.6 156.2,173.6 156.6,173.6 157.0,173.6 157.3,173.6 157.8,173.6 158.2,173.6 158.6,173.7 158.9,173.7 159.3,173.7 159.8,173.7 160.2,173.7 160.6,173.7 160.9,173.7 161.3,173.7 161.8,173.7 162.2,173.7 162.6,173.7 162.9,173.7 163.3,173.7 163.8,173.7 164.2,173.7 164.6,173.7 164.9,173.7 165.3,173.7 165.8,173.7 166.2,173.7 166.6,173.7 166.9,173.7 167.3,173.7 167.8,173.7 168.2,173.7 168.6,173.7 168.9,173.7 169.3,173.7 169.8,173.7 170.2,173.7 170.6,173.7 170.9,173.7 171.3,173.7 171.8,173.7 172.2,173.7 172.6,173.7 172.9,173.7 173.3,173.7 173.8,173.7 174.2,173.7 174.6,173.7 174.9,173.7 175.3,173.7 175.8,173.7 176.2,173.7 176.6,173.7 176.9,173.7 177.3,173.7 177.8,173.7 178.2,173.7 178.6,173.7 178.9,173.7 179.3,173.7 179.8,173.7 180.2,173.7 180.6,173.7 180.9,173.7 181.3,173.7 181.8,173.7 182.2,173.7 182.6,173.7 183.0,173.7 183.3,173.7 183.8,173.7 184.2,173.7 184.6,173.7 185.0,173.7 185.3,173.7 185.8,173.7 186.2,173.7 186.6,173.7 187.0,173.7 187.3,173.7 187.8,173.7 188.2,173.7 188.6,173.7 189.0,173.7 189.3,173.7 189.8,173.7 190.2,173.7 190.6,173.7 191.0,173.7 191.3,173.7 191.8,173.7 192.2,173.7 192.6,173.7 193.0,173.7 193.3,173.7 193.8,173.7 194.2,173.7 194.6,173.7 195.0,173.7 195.3,173.7 195.8,173.7 196.2,173.7 196.6,173.7 197.0,173.7 197.3,173.7 197.8,173.7 198.2,173.7 198.6,173.7 199.0,173.7 199.3,173.7 199.8,173.7 200.2,173.7 200.6,173.7 201.0,173.7 201.3,173.7 201.8,173.7 202.2,173.7 202.6,173.7 203.0,173.7 203.3,173.7 203.8,173.7 204.2,173.7 204.6,173.7 205.0,173.7 205.3,173.7 205.8,173.7 206.2,173.7 206.6,173.7 207.0,173.7 207.3,173.7 207.8,173.7 208.2,173.7 208.6,173.7 209.0,173.7 209.3,173.7 209.8,173.7 210.2,173.7 210.6,173.7 211.0,173.7 211.3,173.7 211.8,173.7 212.2,173.7 212.6,173.7 213.0,173.7 213.3,173.7 213.8,173.7 214.2,173.7 214.6,173.7 215.0,173.7 215.3,173.7 215.8,173.7 216.2,173.7 216.6,173.7 217.0,173.7 217.3,173.7 217.8,173.6 218.2,173.6 218.6,173.6 219.0,173.6 219.3,173.6 219.8,173.6 220.2,173.6 220.6,173.5 221.0,173.5 221.3,173.5 221.8,173.4 222.2,173.3 222.6,173.2 223.0,173.1 223.3,172.9 223.8,172.8 224.2,172.6 224.6,172.5 225.0,172.4 225.3,172.4 225.8,172.5 226.2,172.7 226.6,172.9 227.0,173.0 227.3,173.1 227.8,173.2 228.2,173.3 228.6,173.4 229.0,173.4 229.3,173.5 229.8,173.5 230.2,173.5 230.6,173.5 231.0,173.5 231.3,173.5 231.8,173.5 232.2,173.5 232.6,173.4 233.0,173.4 233.3,173.4 233.8,173.3 234.2,173.2 234.6,173.1 235.0,172.9 235.3,172.7 235.8,172.4 236.2,172.1 236.6,171.7 237.0,171.3 237.3,171.1 237.8,171.2 238.2,171.4 238.6,171.8 239.0,172.2 239.3,172.5 239.8,172.8 240.2,173.0 240.6,173.1 241.0,173.3 241.3,173.4 241.8,173.4 242.2,173.5 242.6,173.5 243.0,173.5 243.3,173.6 243.8,173.6 244.2,173.6 244.6,173.6 245.0,173.6 245.3,173.6 245.8,173.6 246.2,173.6 246.6,173.7 247.0,173.7 247.3,173.7 247.8,173.7 248.2,173.7 248.6,173.7 249.0,173.7 249.3,173.7 249.8,173.7 250.2,173.7 250.6,173.7 251.0,173.7 251.3,173.7 251.8,173.7 252.2,173.7 252.6,173.7 253.0,173.7 253.3,173.7 253.8,173.7 254.2,173.7 254.6,173.7 255.0,173.7 255.3,173.7 255.8,173.7 256.2,173.7 256.6,173.7 257.0,173.7 257.4,173.7 257.8,173.7 258.2,173.7 258.6,173.7 259.0,173.7 259.4,173.7 259.8,173.7 260.2,173.7 260.6,173.7 261.0,173.7 261.4,173.6 261.8,173.6 262.2,173.6 262.6,173.5 263.0,173.5 263.4,173.4 263.8,173.3 264.2,173.1 264.6,173.0 265.0,172.9 265.4,173.0 265.8,173.1 266.2,173.2 266.6,173.3 267.0,173.4 267.4,173.5 267.8,173.6 268.2,173.6 268.6,173.6 269.0,173.7 269.4,173.7 269.8,173.7 270.2,173.7 270.6,173.7 271.0,173.7 271.4,173.7 271.8,173.7 272.2,173.7 272.6,173.7 273.0,173.7 273.4,173.7 273.8,173.7 274.2,173.7 274.6,173.7 275.0,173.7 275.4,173.7 275.8,173.7 276.2,173.7 276.6,173.7 277.0,173.7 277.4,173.7 277.8,173.7 278.2,173.7 278.6,173.7 279.0,173.7 279.4,173.7 279.8,173.7 280.2,173.7 280.6,173.7 281.0,173.7 281.4,173.7 281.8,173.7 282.2,173.7 282.6,173.7 283.0,173.7 283.4,173.7 283.8,173.7 284.2,173.7 284.6,173.7 285.0,173.7 285.4,173.7 285.8,173.7 286.2,173.7 286.6,173.7 287.0,173.7 287.4,173.7 287.8,173.7 288.2,173.7 288.6,173.7 289.0,173.7 289.4,173.7 289.8,173.7 290.2,173.7 290.6,173.7 291.0,173.7 291.4,173.7 291.8,173.7 292.2,173.7 292.6,173.7 293.0,173.7 293.4,173.7 293.8,173.7 294.2,173.7 294.6,173.7 295.0,173.7 295.4,173.7 295.8,173.7 296.2,173.7 296.6,173.7 297.0,173.7 297.4,173.7 297.8,173.7 298.2,173.7 298.6,173.7 299.0,173.6 299.4,173.6 299.8,173.6 300.2,173.5 300.6,173.5 301.0,173.4 301.4,173.3 301.8,173.2 302.2,173.1 302.6,173.0 303.0,173.1 303.4,173.2 303.8,173.3 304.2,173.4 304.6,173.5 305.0,173.5 305.4,173.6 305.8,173.6 306.2,173.6 306.6,173.6 307.0,173.7 307.4,173.7 307.8,173.7 308.2,173.7 308.6,173.7 309.0,173.7 309.4,173.7 309.8,173.7 310.2,173.7 310.6,173.7 311.0,173.7 311.4,173.7 311.8,173.6 312.2,173.6 312.6,173.6 313.0,173.6 313.4,173.6 313.8,173.6 314.2,173.6 314.6,173.6 315.0,173.5 315.4,173.5 315.8,173.5 316.2,173.4 316.6,173.3 317.0,173.2 317.4,173.1 317.8,172.9 318.2,172.7 318.6,172.4 319.0,172.0 319.4,171.7 319.8,171.3 320.2,171.2 320.6,171.2 321.0,171.5 321.4,171.9 321.8,172.2 322.2,172.6 322.6,172.8 323.0,173.0 323.4,173.2 323.8,173.3 324.2,173.4 324.6,173.4 325.0,173.5 325.4,173.5 325.8,173.6 326.2,173.6 326.6,173.6 327.0,173.6 327.4,173.6 327.8,173.6 328.2,173.6 328.6,173.7" fill="none" stroke="#888888" stroke-width="1.7" stroke-linejoin="round"/>
<polyline points="29.4,218.3 29.8,218.3 30.2,218.3 30.6,218.3 31.0,218.3 31.4,218.3 31.8,218.3 32.1,218.2 32.6,218.2 33.0,218.2 33.4,218.2 33.8,218.2 34.2,218.2 34.6,218.2 35.0,218.2 35.4,218.2 35.8,218.2 36.2,218.2 36.6,218.2 37.0,218.2 37.4,218.2 37.8,218.2 38.2,218.2 38.6,218.2 39.0,218.2 39.4,218.2 39.8,218.2 40.2,218.1 40.6,218.1 41.0,218.1 41.4,218.1 41.8,218.1 42.2,218.1 42.6,218.0 43.0,218.0 43.4,217.9 43.8,217.9 44.2,217.8 44.6,217.7 45.0,217.6 45.4,217.4 45.8,217.2 46.2,216.9 46.5,216.3 47.0,215.4 47.4,214.0 47.8,211.9 48.2,209.6 48.6,208.3 49.0,209.1 49.4,211.4 49.8,213.5 50.2,215.1 50.6,216.1 51.0,216.7 51.4,217.1 51.8,217.4 52.2,217.6 52.6,217.7 53.0,217.8 53.4,217.9 53.8,217.9 54.2,218.0 54.6,218.0 55.0,218.0 55.4,218.0 55.8,218.1 56.2,218.1 56.6,218.1 57.0,218.1 57.4,218.1 57.8,218.1 58.2,218.1 58.6,218.1 59.0,218.2 59.4,218.2 59.8,218.2 60.2,218.2 60.6,218.2 61.0,218.2 61.4,218.2 61.8,218.2 62.2,218.2 62.6,218.2 63.0,218.2 63.4,218.1 63.8,218.1 64.2,218.1 64.6,218.1 65.0,218.1 65.3,218.1 65.8,218.1 66.2,218.1 66.6,218.0 67.0,218.0 67.3,218.0 67.8,217.9 68.2,217.9 68.6,217.8 69.0,217.6 69.3,217.4 69.8,217.1 70.2,216.6 70.6,216.1 71.0,215.6 71.3,215.5 71.8,215.7 72.2,216.0 72.6,216.1 73.0,216.0 73.3,215.9 73.8,215.8 74.2,216.0 74.6,216.5 75.0,216.9 75.3,217.3 75.8,217.5 76.2,217.7 76.6,217.8 77.0,217.8 77.3,217.9 77.8,217.9 78.2,217.9 78.6,217.9 79.0,217.9 79.3,217.9 79.8,217.9 80.2,217.9 80.6,217.9 81.0,217.9 81.3,217.8 81.8,217.8 82.2,217.7 82.6,217.6 83.0,217.5 83.3,217.3 83.8,217.1 84.2,216.7 84.6,216.0 85.0,215.0 85.3,213.4 85.8,211.2 86.2,208.9 86.6,208.0 87.0,209.4 87.3,211.8 87.8,213.8 88.2,215.3 88.6,216.2 89.0,216.8 89.3,217.1 89.8,217.4 90.2,217.5 90.6,217.7 91.0,217.7 91.3,217.8 91.8,217.9 92.2,217.9 92.6,217.9 93.0,218.0 93.3,218.0 93.8,218.0 94.2,218.0 94.6,218.0 95.0,218.1 95.3,218.1 95.8,218.1 96.2,218.1 96.6,218.1 97.0,218.1 97.3,218.1 97.8,218.1 98.2,218.1 98.6,218.1 99.0,218.1 99.3,218.1 99.8,218.1 100.2,218.1 100.6,218.1 101.0,218.0 101.3,218.0 101.8,218.0 102.2,218.0 102.6,218.0 103.0,218.0 103.3,217.9 103.8,217.9 104.2,217.9 104.6,217.8 105.0,217.8 105.3,217.7 105.8,217.6 106.2,217.5 106.6,217.3 107.0,217.0 107.3,216.6 107.8,215.8 108.2,214.7 108.6,213.2 109.0,211.6 109.3,211.0 109.8,211.9 110.2,213.5 110.6,214.9 111.0,215.9 111.3,216.5 111.8,216.9 112.2,217.1 112.6,217.2 113.0,217.2 113.3,217.3 113.8,217.3 114.2,217.2 114.6,217.2 115.0,217.1 115.3,217.0 115.8,216.8 116.2,216.6 116.6,216.3 117.0,215.9 117.3,215.4 117.8,214.6 118.2,213.3 118.6,211.3 119.0,208.0 119.3,203.2 119.8,196.8 120.2,191.0 120.6,190.1 121.0,194.9 121.3,201.2 121.8,206.1 122.2,209.2 122.6,210.6 123.0,210.5 123.3,209.6 123.8,209.2 124.2,210.3 124.6,211.6 125.0,212.1 125.3,211.8 125.8,212.2 126.2,213.4 126.6,214.6 127.0,215.3 127.3,215.7 127.8,215.7 128.2,215.4 128.6,214.7 129.0,213.5 129.3,211.7 129.8,209.4 130.2,207.7 130.6,208.0 131.0,210.2 131.3,212.5 131.8,214.3 132.2,215.5 132.6,216.2 133.0,216.7 133.3,217.0 133.8,217.2 134.2,217.3 134.6,217.4 135.0,217.5 135.3,217.5 135.8,217.6 136.2,217.6 136.6,217.5 137.0,217.5 137.3,217.4 137.8,217.2 138.2,216.9 138.6,216.4 139.0,215.7 139.3,214.8 139.8,214.1 140.2,214.2 140.6,215.0 141.0,215.9 141.3,216.6 141.8,217.1 142.2,217.4 142.6,217.6 143.0,217.7 143.3,217.7 143.8,217.8 144.2,217.8 144.6,217.8 145.0,217.8 145.3,217.8 145.8,217.8 146.2,217.8 146.6,217.7 147.0,217.6 147.3,217.5 147.8,217.2 148.2,216.8 148.6,216.2 149.0,215.2 149.3,214.0 149.8,212.8 150.2,212.7 150.6,213.7 151.0,215.0 151.3,216.0 151.8,216.7 152.2,217.2 152.6,217.5 153.0,217.7 153.3,217.8 153.8,217.9 154.2,217.9 154.6,218.0 155.0,218.0 155.3,218.0 155.8,218.1 156.2,218.1 156.6,218.1 157.0,218.1 157.3,218.1 157.8,218.1 158.2,218.1 158.6,218.1 158.9,218.2 159.3,218.2 159.8,218.2 160.2,218.2 160.6,218.2 160.9,218.2 161.3,218.2 161.8,218.1 162.2,218.1 162.6,218.1 162.9,218.1 163.3,218.1 163.8,218.0 164.2,217.9 164.6,217.8 164.9,217.6 165.3,217.4 165.8,217.3 166.2,217.4 166.6,217.6 166.9,217.7 167.3,217.9 167.8,218.0 168.2,218.1 168.6,218.1 168.9,218.1 169.3,218.2 169.8,218.2 170.2,218.2 170.6,218.2 170.9,218.2 171.3,218.2 171.8,218.2 172.2,218.2 172.6,218.2 172.9,218.2 173.3,218.2 173.8,218.2 174.2,218.2 174.6,218.2 174.9,218.2 175.3,218.2 175.8,218.2 176.2,218.2 176.6,218.2 176.9,218.2 177.3,218.2 177.8,218.2 178.2,218.2 178.6,218.2 178.9,218.2 179.3,218.2 179.8,218.2 180.2,218.2 180.6,218.2 180.9,218.2 181.3,218.2 181.8,218.2 182.2,218.2 182.6,218.2 183.0,218.2 183.3,218.2 183.8,218.2 184.2,218.2 184.6,218.2 185.0,218.2 185.3,218.2 185.8,218.2 186.2,218.2 186.6,218.2 187.0,218.1 187.3,218.1 187.8,218.1 188.2,218.0 188.6,217.9 189.0,217.7 189.3,217.5 189.8,217.2 190.2,217.0 190.6,216.9 191.0,217.0 191.3,217.3 191.8,217.6 192.2,217.8 192.6,217.9 193.0,218.0 193.3,218.1 193.8,218.1 194.2,218.1 194.6,218.2 195.0,218.2 195.3,218.2 195.8,218.2 196.2,218.2 196.6,218.2 197.0,218.2 197.3,218.2 197.8,218.2 198.2,218.2 198.6,218.2 199.0,218.2 199.3,218.2 199.8,218.1 200.2,218.1 200.6,218.1 201.0,218.0 201.3,218.0 201.8,217.8 202.2,217.7 202.6,217.4 203.0,217.1 203.3,216.9 203.8,216.9 204.2,217.1 204.6,217.4 205.0,217.6 205.3,217.8 205.8,217.9 206.2,218.0 206.6,218.1 207.0,218.1 207.3,218.1 207.8,218.2 208.2,218.2 208.6,218.2 209.0,218.2 209.3,218.2 209.8,218.2 210.2,218.2 210.6,218.2 211.0,218.2 211.3,218.2 211.8,218.2 212.2,218.2 212.6,218.2 213.0,218.2 213.3,218.2 213.8,218.2 214.2,218.2 214.6,218.2 215.0,218.2 215.3,218.2 215.8,218.2 216.2,218.2 216.6,218.2 217.0,218.1 217.3,218.1 217.8,218.1 218.2,218.1 218.6,218.1 219.0,218.0 219.3,218.0 219.8,218.0 220.2,217.9 220.6,217.8 221.0,217.7 221.3,217.5 221.8,217.3 222.2,216.9 222.6,216.2 223.0,215.3 223.3,214.3 223.8,213.6 224.2,213.8 224.6,214.4 225.0,214.9 225.3,214.8 225.8,214.3 226.2,213.8 226.6,213.8 227.0,214.6 227.3,215.6 227.8,216.4 228.2,217.0 228.6,217.3 229.0,217.6 229.3,217.7 229.8,217.8 230.2,217.9 230.6,217.9 231.0,218.0 231.3,218.0 231.8,218.0 232.2,218.0 232.6,218.0 233.0,218.0 233.3,218.0 233.8,218.0 234.2,217.9 234.6,217.9 235.0,217.8 235.3,217.6 235.8,217.4 236.2,217.0 236.6,216.4 237.0,215.7 237.3,215.0 237.8,214.9 238.2,215.5 238.6,216.2 239.0,216.9 239.3,217.3 239.8,217.6 240.2,217.7 240.6,217.8 241.0,217.9 241.3,217.9 241.8,217.9 242.2,217.9 242.6,217.9 243.0,217.8 243.3,217.6 243.8,217.4 244.2,217.1 244.6,217.0 245.0,217.1 245.3,217.4 245.8,217.6 246.2,217.8 246.6,218.0 247.0,218.0 247.3,218.1 247.8,218.1 248.2,218.1 248.6,218.2 249.0,218.2 249.3,218.2 249.8,218.2 250.2,218.2 250.6,218.2 251.0,218.2 251.3,218.2 251.8,218.2 252.2,218.2 252.6,218.2 253.0,218.2 253.3,218.2 253.8,218.2 254.2,218.2 254.6,218.2 255.0,218.2 255.3,218.2 255.8,218.2 256.2,218.2 256.6,218.2 257.0,218.2 257.4,218.2 257.8,218.2 258.2,218.2 258.6,218.2 259.0,218.2 259.4,218.2 259.8,218.1 260.2,218.1 260.6,218.1 261.0,218.1 261.4,218.0 261.8,218.0 262.2,217.9 262.6,217.8 263.0,217.7 263.4,217.4 263.8,217.0 264.2,216.4 264.6,215.5 265.0,214.5 265.4,213.9 265.8,214.3 266.2,215.3 266.6,216.2 267.0,216.8 267.4,217.3 267.8,217.5 268.2,217.6 268.6,217.7 269.0,217.7 269.4,217.6 269.8,217.5 270.2,217.2 270.6,216.9 271.0,216.9 271.4,217.0 271.8,217.4 272.2,217.6 272.6,217.8 273.0,218.0 273.4,218.0 273.8,218.1 274.2,218.1 274.6,218.1 275.0,218.2 275.4,218.2 275.8,218.2 276.2,218.2 276.6,218.2 277.0,218.2 277.4,218.2 277.8,218.2 278.2,218.2 278.6,218.2 279.0,218.2 279.4,218.2 279.8,218.2 280.2,218.2 280.6,218.2 281.0,218.2 281.4,218.2 281.8,218.2 282.2,218.2 282.6,218.2 283.0,218.2 283.4,218.2 283.8,218.2 284.2,218.2 284.6,218.2 285.0,218.2 285.4,218.2 285.8,218.2 286.2,218.2 286.6,218.2 287.0,218.2 287.4,218.2 287.8,218.2 288.2,218.2 288.6,218.2 289.0,218.2 289.4,218.2 289.8,218.2 290.2,218.2 290.6,218.2 291.0,218.2 291.4,218.2 291.8,218.2 292.2,218.2 292.6,218.1 293.0,218.1 293.4,218.1 293.8,218.0 294.2,217.9 294.6,217.7 295.0,217.5 295.4,217.2 295.8,216.9 296.2,216.9 296.6,217.1 297.0,217.4 297.4,217.6 297.8,217.8 298.2,217.8 298.6,217.9 299.0,217.9 299.4,217.8 299.8,217.7 300.2,217.6 300.6,217.4 301.0,217.1 301.4,216.5 301.8,215.7 302.2,214.9 302.6,214.3 303.0,214.6 303.4,215.5 303.8,216.2 304.2,216.8 304.6,217.1 305.0,217.3 305.4,217.3 305.8,217.2 306.2,217.0 306.6,216.5 307.0,215.8 307.4,214.9 307.8,214.0 308.2,213.9 308.6,214.7 309.0,215.7 309.4,216.5 309.8,217.1 310.2,217.4 310.6,217.6 311.0,217.8 311.4,217.9 311.8,217.9 312.2,218.0 312.6,218.0 313.0,218.1 313.4,218.1 313.8,218.1 314.2,218.1 314.6,218.1 315.0,218.1 315.4,218.1 315.8,218.1 316.2,218.1 316.6,218.1 317.0,218.0 317.4,218.0 317.8,217.9 318.2,217.7 318.6,217.5 319.0,217.1 319.4,216.7 319.8,216.1 320.2,216.0 320.6,216.3 321.0,216.8 321.4,217.3 321.8,217.6 322.2,217.8 322.6,217.9 323.0,218.0 323.4,218.1 323.8,218.1 324.2,218.1 324.6,218.2 325.0,218.2 325.4,218.2 325.8,218.2 326.2,218.2 326.6,218.2 327.0,218.2 327.4,218.2 327.8,218.2 328.2,218.2 328.6,218.2" fill="none" stroke="#000000" stroke-width="1.7" stroke-linejoin="round"/>
<line x1="28.75" y1="218.6" x2="329.5" y2="218.6" stroke="#000" stroke-width="1.3"/>
<path d="M130.7,194.4 L133.6,198 L130.7,201.6 L127.79999999999998,198 Z" fill="#ff0000"/>
<path d="M238,200.6 L240.9,204.2 L238,207.79999999999998 L235.1,204.2 Z" fill="#ff0000"/>
<path d="M320.8,200.6 L323.7,204.2 L320.8,207.79999999999998 L317.90000000000003,204.2 Z" fill="#ff0000"/>
<line x1="48.4" y1="229.7" x2="48.4" y2="243.3" stroke="#0000ff" stroke-width="1.15"/>
<line x1="61.3" y1="229.7" x2="61.3" y2="243.3" stroke="#0000ff" stroke-width="1.15"/>
<line x1="62.6" y1="229.7" x2="62.6" y2="243.3" stroke="#0000ff" stroke-width="1.15"/>
<line x1="71.3" y1="229.7" x2="71.3" y2="243.3" stroke="#0000ff" stroke-width="1.15"/>
<line x1="73.7" y1="229.7" x2="73.7" y2="243.3" stroke="#0000ff" stroke-width="1.15"/>
<line x1="86.6" y1="229.7" x2="86.6" y2="243.3" stroke="#0000ff" stroke-width="1.15"/>
<line x1="95.8" y1="229.7" x2="95.8" y2="243.3" stroke="#0000ff" stroke-width="1.15"/>
<line x1="99.3" y1="229.7" x2="99.3" y2="243.3" stroke="#0000ff" stroke-width="1.15"/>
<line x1="109" y1="229.7" x2="109" y2="243.3" stroke="#0000ff" stroke-width="1.15"/>
<line x1="119.9" y1="229.7" x2="119.9" y2="243.3" stroke="#0000ff" stroke-width="1.15"/>
<line x1="121.3" y1="229.7" x2="121.3" y2="243.3" stroke="#0000ff" stroke-width="1.15"/>
<line x1="123.9" y1="229.7" x2="123.9" y2="243.3" stroke="#0000ff" stroke-width="1.15"/>
<line x1="130.5" y1="229.7" x2="130.5" y2="243.3" stroke="#0000ff" stroke-width="1.15"/>
<line x1="134" y1="229.7" x2="134" y2="243.3" stroke="#0000ff" stroke-width="1.15"/>
<line x1="137.6" y1="229.7" x2="137.6" y2="243.3" stroke="#0000ff" stroke-width="1.15"/>
<line x1="138.8" y1="229.7" x2="138.8" y2="243.3" stroke="#0000ff" stroke-width="1.15"/>
<line x1="140.2" y1="229.7" x2="140.2" y2="243.3" stroke="#0000ff" stroke-width="1.15"/>
<line x1="150.4" y1="229.7" x2="150.4" y2="243.3" stroke="#0000ff" stroke-width="1.15"/>
<line x1="152.8" y1="229.7" x2="152.8" y2="243.3" stroke="#0000ff" stroke-width="1.15"/>
<line x1="158.2" y1="229.7" x2="158.2" y2="243.3" stroke="#0000ff" stroke-width="1.15"/>
<line x1="159.4" y1="229.7" x2="159.4" y2="243.3" stroke="#0000ff" stroke-width="1.15"/>
<line x1="161.2" y1="229.7" x2="161.2" y2="243.3" stroke="#0000ff" stroke-width="1.15"/>
<line x1="162.4" y1="229.7" x2="162.4" y2="243.3" stroke="#0000ff" stroke-width="1.15"/>
<line x1="165.5" y1="229.7" x2="165.5" y2="243.3" stroke="#0000ff" stroke-width="1.15"/>
<line x1="184.5" y1="229.7" x2="184.5" y2="243.3" stroke="#0000ff" stroke-width="1.15"/>
<line x1="187.6" y1="229.7" x2="187.6" y2="243.3" stroke="#0000ff" stroke-width="1.15"/>
<line x1="190.0" y1="229.7" x2="190.0" y2="243.3" stroke="#0000ff" stroke-width="1.15"/>
<line x1="191.2" y1="229.7" x2="191.2" y2="243.3" stroke="#0000ff" stroke-width="1.15"/>
<line x1="192.5" y1="229.7" x2="192.5" y2="243.3" stroke="#0000ff" stroke-width="1.15"/>
<line x1="195.2" y1="229.7" x2="195.2" y2="243.3" stroke="#0000ff" stroke-width="1.15"/>
<line x1="200.5" y1="229.7" x2="200.5" y2="243.3" stroke="#0000ff" stroke-width="1.15"/>
<line x1="203.4" y1="229.7" x2="203.4" y2="243.3" stroke="#0000ff" stroke-width="1.15"/>
<line x1="206.4" y1="229.7" x2="206.4" y2="243.3" stroke="#0000ff" stroke-width="1.15"/>
<line x1="207.4" y1="229.7" x2="207.4" y2="243.3" stroke="#0000ff" stroke-width="1.15"/>
<line x1="208.9" y1="229.7" x2="208.9" y2="243.3" stroke="#0000ff" stroke-width="1.15"/>
<line x1="215.4" y1="229.7" x2="215.4" y2="243.3" stroke="#0000ff" stroke-width="1.15"/>
<line x1="218.5" y1="229.7" x2="218.5" y2="243.3" stroke="#0000ff" stroke-width="1.15"/>
<line x1="224.1" y1="229.7" x2="224.1" y2="243.3" stroke="#0000ff" stroke-width="1.15"/>
<line x1="226.2" y1="229.7" x2="226.2" y2="243.3" stroke="#0000ff" stroke-width="1.15"/>
<line x1="230.3" y1="229.7" x2="230.3" y2="243.3" stroke="#0000ff" stroke-width="1.15"/>
<line x1="232.8" y1="229.7" x2="232.8" y2="243.3" stroke="#0000ff" stroke-width="1.15"/>
<line x1="235.8" y1="229.7" x2="235.8" y2="243.3" stroke="#0000ff" stroke-width="1.15"/>
<line x1="237.2" y1="229.7" x2="237.2" y2="243.3" stroke="#0000ff" stroke-width="1.15"/>
<line x1="240.2" y1="229.7" x2="240.2" y2="243.3" stroke="#0000ff" stroke-width="1.15"/>
<line x1="244.6" y1="229.7" x2="244.6" y2="243.3" stroke="#0000ff" stroke-width="1.15"/>
<line x1="250.5" y1="229.7" x2="250.5" y2="243.3" stroke="#0000ff" stroke-width="1.15"/>
<line x1="251.8" y1="229.7" x2="251.8" y2="243.3" stroke="#0000ff" stroke-width="1.15"/>
<line x1="253.2" y1="229.7" x2="253.2" y2="243.3" stroke="#0000ff" stroke-width="1.15"/>
<line x1="254.5" y1="229.7" x2="254.5" y2="243.3" stroke="#0000ff" stroke-width="1.15"/>
<line x1="257" y1="229.7" x2="257" y2="243.3" stroke="#0000ff" stroke-width="1.15"/>
<line x1="265.9" y1="229.7" x2="265.9" y2="243.3" stroke="#0000ff" stroke-width="1.15"/>
<line x1="270.4" y1="229.7" x2="270.4" y2="243.3" stroke="#0000ff" stroke-width="1.15"/>
<line x1="271.6" y1="229.7" x2="271.6" y2="243.3" stroke="#0000ff" stroke-width="1.15"/>
<line x1="272.8" y1="229.7" x2="272.8" y2="243.3" stroke="#0000ff" stroke-width="1.15"/>
<line x1="274.3" y1="229.7" x2="274.3" y2="243.3" stroke="#0000ff" stroke-width="1.15"/>
<line x1="276.9" y1="229.7" x2="276.9" y2="243.3" stroke="#0000ff" stroke-width="1.15"/>
<line x1="278.3" y1="229.7" x2="278.3" y2="243.3" stroke="#0000ff" stroke-width="1.15"/>
<line x1="279.8" y1="229.7" x2="279.8" y2="243.3" stroke="#0000ff" stroke-width="1.15"/>
<line x1="286.7" y1="229.7" x2="286.7" y2="243.3" stroke="#0000ff" stroke-width="1.15"/>
<line x1="291.3" y1="229.7" x2="291.3" y2="243.3" stroke="#0000ff" stroke-width="1.15"/>
<line x1="296" y1="229.7" x2="296" y2="243.3" stroke="#0000ff" stroke-width="1.15"/>
<line x1="299.1" y1="229.7" x2="299.1" y2="243.3" stroke="#0000ff" stroke-width="1.15"/>
<line x1="302.8" y1="229.7" x2="302.8" y2="243.3" stroke="#0000ff" stroke-width="1.15"/>
<line x1="307.4" y1="229.7" x2="307.4" y2="243.3" stroke="#0000ff" stroke-width="1.15"/>
<line x1="308.6" y1="229.7" x2="308.6" y2="243.3" stroke="#0000ff" stroke-width="1.15"/>
<line x1="309.8" y1="229.7" x2="309.8" y2="243.3" stroke="#0000ff" stroke-width="1.15"/>
<line x1="311.2" y1="229.7" x2="311.2" y2="243.3" stroke="#0000ff" stroke-width="1.15"/>
<line x1="312.3" y1="229.7" x2="312.3" y2="243.3" stroke="#0000ff" stroke-width="1.15"/>
<line x1="314" y1="229.7" x2="314" y2="243.3" stroke="#0000ff" stroke-width="1.15"/>
<line x1="316.5" y1="229.7" x2="316.5" y2="243.3" stroke="#0000ff" stroke-width="1.15"/>
<line x1="319.8" y1="229.7" x2="319.8" y2="243.3" stroke="#0000ff" stroke-width="1.15"/>
<line x1="321.0" y1="229.7" x2="321.0" y2="243.3" stroke="#0000ff" stroke-width="1.15"/>
<line x1="322.2" y1="229.7" x2="322.2" y2="243.3" stroke="#0000ff" stroke-width="1.15"/>
<line x1="323.4" y1="229.7" x2="323.4" y2="243.3" stroke="#0000ff" stroke-width="1.15"/>
<line x1="324.6" y1="229.7" x2="324.6" y2="243.3" stroke="#0000ff" stroke-width="1.15"/>
<line x1="325.8" y1="229.7" x2="325.8" y2="243.3" stroke="#0000ff" stroke-width="1.15"/>
<line x1="327.0" y1="229.7" x2="327.0" y2="243.3" stroke="#0000ff" stroke-width="1.15"/>
<line x1="328.2" y1="229.7" x2="328.2" y2="243.3" stroke="#0000ff" stroke-width="1.15"/>
<rect x="28.75" y="1.5" width="300.75" height="251.9" fill="none" stroke="#000" stroke-width="1.3"/>
<line x1="62.62" y1="253.4" x2="62.62" y2="256.6" stroke="#000" stroke-width="1.3"/>
<line x1="100.75" y1="253.4" x2="100.75" y2="260.0" stroke="#000" stroke-width="1.3"/>
<line x1="138.88" y1="253.4" x2="138.88" y2="256.6" stroke="#000" stroke-width="1.3"/>
<line x1="177.00" y1="253.4" x2="177.00" y2="260.0" stroke="#000" stroke-width="1.3"/>
<line x1="215.12" y1="253.4" x2="215.12" y2="256.6" stroke="#000" stroke-width="1.3"/>
<line x1="253.25" y1="253.4" x2="253.25" y2="260.0" stroke="#000" stroke-width="1.3"/>
<line x1="291.38" y1="253.4" x2="291.38" y2="256.6" stroke="#000" stroke-width="1.3"/>
<line x1="329.50" y1="253.4" x2="329.50" y2="260.0" stroke="#000" stroke-width="1.3"/>
<text x="100.75" y="280.4" font-size="18.6" text-anchor="middle" >6</text>
<text x="177.00" y="280.4" font-size="18.6" text-anchor="middle" >8</text>
<text x="253.25" y="280.4" font-size="18.6" text-anchor="middle" >10</text>
<text x="329.50" y="280.4" font-size="18.6" text-anchor="middle" >12</text>
<text x="112.2" y="302.8" font-size="18.8" textLength="134.5" lengthAdjust="spacingAndGlyphs" >2Theta(degree)</text>
<text x="19.8" y="213" font-size="19.3" textLength="170" lengthAdjust="spacingAndGlyphs" transform="rotate(-90 19.8 213)" >Intensity (Arb. unit)</text>
<line x1="260" y1="20.3" x2="285.5" y2="20.3" stroke="#ff0000" stroke-width="1.7"/>
<text x="289.6" y="27.4" font-size="18" textLength="23.5" lengthAdjust="spacingAndGlyphs" >S-3</text>
<line x1="260" y1="67.5" x2="285.5" y2="67.5" stroke="#0000ff" stroke-width="1.7"/>
<text x="289.6" y="74.6" font-size="18" textLength="23.5" lengthAdjust="spacingAndGlyphs" >S-4</text>
<line x1="260" y1="108.3" x2="285.5" y2="108.3" stroke="#ff00ff" stroke-width="1.7"/>
<text x="289.6" y="116.6" font-size="18" textLength="23.5" lengthAdjust="spacingAndGlyphs" >S-5</text>
<line x1="260" y1="148.6" x2="285.5" y2="148.6" stroke="#888888" stroke-width="1.7"/>
<text x="289.6" y="155.4" font-size="18" textLength="23.5" lengthAdjust="spacingAndGlyphs" >S-7</text>
<line x1="260" y1="189.8" x2="285.5" y2="189.8" stroke="#000000" stroke-width="1.7"/>
<text x="289.6" y="196.9" font-size="18" textLength="23.5" lengthAdjust="spacingAndGlyphs" >S-9</text>
<text x="33.5" y="243.1" font-size="17.5" textLength="9.8" lengthAdjust="spacingAndGlyphs" >H</text>
<text x="2.6" y="23.3" font-size="30" textLength="14.6" lengthAdjust="spacingAndGlyphs" font-weight="bold" >a</text>
<polyline points="366.1,82.7 366.5,82.7 366.9,82.7 367.3,82.7 367.7,82.7 368.1,82.7 368.5,82.7 368.9,82.7 369.3,82.7 369.7,82.7 370.1,82.7 370.5,82.6 370.9,82.6 371.3,82.6 371.7,82.6 372.1,82.6 372.5,82.6 372.9,82.6 373.3,82.6 373.7,82.6 374.1,82.6 374.5,82.6 374.9,82.6 375.3,82.6 375.7,82.6 376.1,82.5 376.5,82.5 376.9,82.5 377.3,82.5 377.7,82.5 378.1,82.5 378.5,82.5 378.9,82.5 379.3,82.5 379.7,82.5 380.1,82.4 380.5,82.4 380.9,82.4 381.3,82.4 381.7,82.4 382.1,82.4 382.5,82.3 382.9,82.3 383.3,82.3 383.7,82.3 384.1,82.3 384.5,82.2 384.9,82.2 385.3,82.2 385.7,82.2 386.1,82.1 386.5,82.1 386.9,82.1 387.3,82.0 387.7,82.0 388.1,81.9 388.5,81.9 388.9,81.9 389.3,81.8 389.7,81.8 390.1,81.7 390.5,81.7 390.9,81.6 391.3,81.5 391.7,81.5 392.1,81.4 392.5,81.3 392.9,81.3 393.3,81.2 393.7,81.1 394.1,81.0 394.5,80.9 394.9,80.8 395.3,80.8 395.7,80.7 396.1,80.6 396.5,80.5 396.9,80.4 397.3,80.3 397.7,80.2 398.1,80.0 398.5,79.9 398.9,79.8 399.3,79.7 399.7,79.6 400.1,79.5 400.5,79.4 400.9,79.3 401.3,79.2 401.7,79.0 402.1,78.9 402.5,78.8 402.9,78.7 403.3,78.6 403.7,78.5 404.1,78.5 404.5,78.4 404.9,78.3 405.3,78.2 405.7,78.2 406.1,78.1 406.5,78.1 406.9,78.0 407.3,78.0 407.7,78.0 408.1,78.0 408.5,78.0 408.9,78.0 409.3,78.0 409.7,78.0 410.1,78.1 410.5,78.1 410.9,78.2 411.3,78.2 411.7,78.3 412.1,78.4 412.5,78.4 412.9,78.5 413.3,78.6 413.7,78.7 414.1,78.8 414.5,78.9 414.9,79.0 415.3,79.1 415.7,79.2 416.1,79.3 416.5,79.4 416.9,79.5 417.3,79.6 417.7,79.6 418.1,79.7 418.5,79.8 418.9,79.9 419.3,80.0 419.7,80.1 420.1,80.2 420.5,80.2 420.9,80.3 421.3,80.4 421.7,80.5 422.1,80.5 422.5,80.6 422.9,80.6 423.3,80.7 423.7,80.8 424.1,80.8 424.5,80.8 424.9,80.9 425.3,80.9 425.7,81.0 426.1,81.0 426.5,81.0 426.9,81.0 427.3,81.1 427.7,81.1 428.1,81.1 428.5,81.1 428.9,81.1 429.3,81.1 429.7,81.1 430.1,81.1 430.5,81.1 430.9,81.1 431.3,81.1 431.7,81.1 432.1,81.1 432.5,81.0 432.9,81.0 433.3,81.0 433.7,81.0 434.1,80.9 434.5,80.9 434.9,80.9 435.3,80.8 435.7,80.8 436.1,80.7 436.5,80.7 436.9,80.6 437.3,80.6 437.7,80.5 438.1,80.4 438.5,80.4 438.9,80.3 439.3,80.2 439.7,80.1 440.1,80.0 440.5,79.9 440.9,79.8 441.3,79.6 441.7,79.5 442.1,79.3 442.5,79.1 442.9,78.9 443.3,78.7 443.7,78.4 444.1,78.1 444.5,77.7 444.9,77.3 445.3,76.8 445.7,76.3 446.1,75.6 446.5,74.9 446.9,74.0 447.3,73.0 447.7,71.9 448.1,70.6 448.5,69.1 448.9,67.5 449.3,65.7 449.7,63.7 450.1,61.5 450.5,59.1 450.9,56.6 451.3,53.9 451.7,51.0 452.1,48.1 452.5,45.2 452.9,42.2 453.3,39.3 453.7,36.6 454.1,34.2 454.5,32.1 454.9,30.5 455.3,29.4 455.7,28.9 456.1,29.0 456.5,29.8 456.9,31.2 457.3,33.1 457.7,35.3 458.1,37.9 458.5,40.7 458.9,43.7 459.3,46.6 459.7,49.6 460.1,52.5 460.5,55.2 460.9,57.8 461.3,60.3 461.7,62.6 462.1,64.7 462.5,66.6 462.9,68.3 463.3,69.9 463.7,71.2 464.1,72.4 464.5,73.5 464.9,74.4 465.3,75.2 465.7,75.9 466.1,76.5 466.5,77.0 466.9,77.5 467.3,77.9 467.7,78.2 468.1,78.5 468.5,78.8 468.9,79.0 469.3,79.2 469.7,79.4 470.1,79.5 470.5,79.7 470.9,79.8 471.3,79.9 471.7,80.0 472.1,80.1 472.5,80.2 472.9,80.3 473.3,80.4 473.7,80.4 474.1,80.5 474.5,80.6 474.9,80.6 475.3,80.7 475.7,80.8 476.1,80.8 476.5,80.9 476.9,80.9 477.3,80.9 477.7,81.0 478.1,81.0 478.5,81.1 478.9,81.1 479.3,81.1 479.7,81.2 480.1,81.2 480.5,81.2 480.9,81.2 481.3,81.3 481.7,81.3 482.1,81.3 482.5,81.3 482.9,81.4 483.3,81.4 483.7,81.4 484.1,81.4 484.5,81.4 484.9,81.5 485.3,81.5 485.7,81.5 486.1,81.5 486.5,81.5 486.9,81.5 487.3,81.5 487.7,81.6 488.1,81.6 488.5,81.6 488.9,81.6 489.3,81.6 489.7,81.6 490.1,81.6 490.5,81.6 490.9,81.6 491.3,81.6 491.7,81.7 492.1,81.7 492.5,81.7 492.9,81.7 493.3,81.7 493.7,81.7 494.1,81.7 494.5,81.7 494.9,81.7 495.3,81.7 495.7,81.7" fill="none" stroke="#ff0000" stroke-width="1.9" stroke-linejoin="round"/>
<polyline points="366.1,124.5 366.5,124.5 366.9,124.5 367.3,124.5 367.7,124.5 368.1,124.5 368.5,124.5 368.9,124.5 369.3,124.5 369.7,124.5 370.1,124.5 370.5,124.5 370.9,124.5 371.3,124.5 371.7,124.5 372.1,124.5 372.5,124.5 372.9,124.5 373.3,124.5 373.7,124.5 374.1,124.5 374.5,124.4 374.9,124.4 375.3,124.4 375.7,124.4 376.1,124.4 376.5,124.4 376.9,124.4 377.3,124.4 377.7,124.4 378.1,124.4 378.5,124.4 378.9,124.4 379.3,124.4 379.7,124.4 380.1,124.4 380.5,124.4 380.9,124.4 381.3,124.4 381.7,124.4 382.1,124.4 382.5,124.3 382.9,124.3 383.3,124.3 383.7,124.3 384.1,124.3 384.5,124.3 384.9,124.3 385.3,124.3 385.7,124.2 386.1,124.2 386.5,124.2 386.9,124.2 387.3,124.2 387.7,124.2 388.1,124.1 388.5,124.1 388.9,124.1 389.3,124.0 389.7,124.0 390.1,124.0 390.5,123.9 390.9,123.9 391.3,123.9 391.7,123.8 392.1,123.8 392.5,123.7 392.9,123.7 393.3,123.6 393.7,123.5 394.1,123.5 394.5,123.4 394.9,123.3 395.3,123.3 395.7,123.2 396.1,123.1 396.5,123.0 396.9,122.9 397.3,122.8 397.7,122.7 398.1,122.6 398.5,122.5 398.9,122.4 399.3,122.3 399.7,122.2 400.1,122.1 400.5,122.0 400.9,121.9 401.3,121.8 401.7,121.7 402.1,121.6 402.5,121.4 402.9,121.3 403.3,121.2 403.7,121.1 404.1,121.0 404.5,120.9 404.9,120.8 405.3,120.7 405.7,120.7 406.1,120.6 406.5,120.5 406.9,120.5 407.3,120.4 407.7,120.4 408.1,120.4 408.5,120.4 408.9,120.3 409.3,120.4 409.7,120.4 410.1,120.4 410.5,120.4 410.9,120.5 411.3,120.5 411.7,120.6 412.1,120.7 412.5,120.8 412.9,120.9 413.3,120.9 413.7,121.0 414.1,121.1 414.5,121.3 414.9,121.4 415.3,121.5 415.7,121.6 416.1,121.7 416.5,121.8 416.9,121.9 417.3,122.0 417.7,122.1 418.1,122.2 418.5,122.3 418.9,122.4 419.3,122.5 419.7,122.6 420.1,122.7 420.5,122.8 420.9,122.9 421.3,123.0 421.7,123.1 422.1,123.2 422.5,123.2 422.9,123.3 423.3,123.4 423.7,123.4 424.1,123.5 424.5,123.5 424.9,123.6 425.3,123.6 425.7,123.7 426.1,123.7 426.5,123.8 426.9,123.8 427.3,123.8 427.7,123.9 428.1,123.9 428.5,123.9 428.9,124.0 429.3,124.0 429.7,124.0 430.1,124.0 430.5,124.0 430.9,124.0 431.3,124.1 431.7,124.1 432.1,124.1 432.5,124.1 432.9,124.1 433.3,124.1 433.7,124.1 434.1,124.1 434.5,124.1 434.9,124.1 435.3,124.1 435.7,124.1 436.1,124.1 436.5,124.1 436.9,124.1 437.3,124.1 437.7,124.1 438.1,124.1 438.5,124.1 438.9,124.1 439.3,124.1 439.7,124.0 440.1,124.0 440.5,124.0 440.9,124.0 441.3,124.0 441.7,124.0 442.1,123.9 442.5,123.9 442.9,123.9 443.3,123.8 443.7,123.8 444.1,123.8 444.5,123.7 444.9,123.7 445.3,123.6 445.7,123.6 446.1,123.5 446.5,123.5 446.9,123.4 447.3,123.3 447.7,123.2 448.1,123.1 448.5,123.0 448.9,122.9 449.3,122.7 449.7,122.5 450.1,122.3 450.5,122.0 450.9,121.6 451.3,121.1 451.7,120.4 452.1,119.6 452.5,118.5 452.9,117.1 453.3,115.3 453.7,113.2 454.1,110.5 454.5,107.5 454.9,104.1 455.3,100.4 455.7,96.6 456.1,93.0 456.5,89.9 456.9,87.9 457.3,87.1 457.7,87.9 458.1,89.9 458.5,93.0 458.9,96.6 459.3,100.4 459.7,104.1 460.1,107.5 460.5,110.6 460.9,113.2 461.3,115.4 461.7,117.1 462.1,118.5 462.5,119.6 462.9,120.5 463.3,121.1 463.7,121.6 464.1,122.0 464.5,122.3 464.9,122.5 465.3,122.7 465.7,122.9 466.1,123.0 466.5,123.2 466.9,123.3 467.3,123.4 467.7,123.5 468.1,123.5 468.5,123.6 468.9,123.7 469.3,123.7 469.7,123.8 470.1,123.8 470.5,123.9 470.9,123.9 471.3,123.9 471.7,124.0 472.1,124.0 472.5,124.0 472.9,124.1 473.3,124.1 473.7,124.1 474.1,124.1 474.5,124.1 474.9,124.2 475.3,124.2 475.7,124.2 476.1,124.2 476.5,124.2 476.9,124.2 477.3,124.3 477.7,124.3 478.1,124.3 478.5,124.3 478.9,124.3 479.3,124.3 479.7,124.3 480.1,124.3 480.5,124.3 480.9,124.3 481.3,124.4 481.7,124.4 482.1,124.4 482.5,124.4 482.9,124.4 483.3,124.4 483.7,124.4 484.1,124.4 484.5,124.4 484.9,124.4 485.3,124.4 485.7,124.4 486.1,124.4 486.5,124.4 486.9,124.4 487.3,124.4 487.7,124.4 488.1,124.4 488.5,124.4 488.9,124.4 489.3,124.5 489.7,124.5 490.1,124.5 490.5,124.5 490.9,124.5 491.3,124.5 491.7,124.5 492.1,124.5 492.5,124.5 492.9,124.5 493.3,124.5 493.7,124.5 494.1,124.5 494.5,124.5 494.9,124.5 495.3,124.5 495.7,124.5" fill="none" stroke="#0000ff" stroke-width="1.9" stroke-linejoin="round"/>
<polyline points="366.1,168.4 366.5,168.4 366.9,168.4 367.3,168.4 367.7,168.4 368.1,168.4 368.5,168.5 368.9,168.5 369.3,168.5 369.7,168.5 370.1,168.5 370.5,168.5 370.9,168.5 371.3,168.5 371.7,168.5 372.1,168.5 372.5,168.5 372.9,168.5 373.3,168.5 373.7,168.5 374.1,168.5 374.5,168.5 374.9,168.5 375.3,168.5 375.7,168.5 376.1,168.5 376.5,168.5 376.9,168.5 377.3,168.5 377.7,168.5 378.1,168.5 378.5,168.5 378.9,168.5 379.3,168.5 379.7,168.5 380.1,168.5 380.5,168.5 380.9,168.5 381.3,168.5 381.7,168.5 382.1,168.5 382.5,168.4 382.9,168.4 383.3,168.4 383.7,168.4 384.1,168.4 384.5,168.4 384.9,168.4 385.3,168.3 385.7,168.3 386.1,168.3 386.5,168.3 386.9,168.2 387.3,168.2 387.7,168.2 388.1,168.1 388.5,168.1 388.9,168.0 389.3,168.0 389.7,167.9 390.1,167.9 390.5,167.8 390.9,167.7 391.3,167.6 391.7,167.6 392.1,167.5 392.5,167.4 392.9,167.3 393.3,167.2 393.7,167.1 394.1,166.9 394.5,166.8 394.9,166.7 395.3,166.5 395.7,166.4 396.1,166.3 396.5,166.1 396.9,165.9 397.3,165.8 397.7,165.6 398.1,165.4 398.5,165.2 398.9,165.1 399.3,164.9 399.7,164.7 400.1,164.5 400.5,164.3 400.9,164.1 401.3,163.9 401.7,163.7 402.1,163.5 402.5,163.3 402.9,163.1 403.3,162.9 403.7,162.8 404.1,162.6 404.5,162.5 404.9,162.3 405.3,162.2 405.7,162.1 406.1,162.0 406.5,161.9 406.9,161.8 407.3,161.8 407.7,161.7 408.1,161.7 408.5,161.7 408.9,161.8 409.3,161.8 409.7,161.9 410.1,162.0 410.5,162.1 410.9,162.2 411.3,162.3 411.7,162.5 412.1,162.6 412.5,162.8 412.9,163.0 413.3,163.2 413.7,163.4 414.1,163.6 414.5,163.8 414.9,164.0 415.3,164.2 415.7,164.4 416.1,164.6 416.5,164.8 416.9,165.0 417.3,165.2 417.7,165.4 418.1,165.6 418.5,165.8 418.9,166.0 419.3,166.2 419.7,166.3 420.1,166.5 420.5,166.7 420.9,166.8 421.3,167.0 421.7,167.1 422.1,167.3 422.5,167.4 422.9,167.5 423.3,167.6 423.7,167.7 424.1,167.8 424.5,167.9 424.9,168.0 425.3,168.1 425.7,168.2 426.1,168.3 426.5,168.3 426.9,168.4 427.3,168.5 427.7,168.5 428.1,168.6 428.5,168.6 428.9,168.7 429.3,168.7 429.7,168.7 430.1,168.8 430.5,168.8 430.9,168.8 431.3,168.8 431.7,168.9 432.1,168.9 432.5,168.9 432.9,168.9 433.3,168.9 433.7,168.9 434.1,168.9 434.5,168.9 434.9,168.9 435.3,168.9 435.7,168.9 436.1,168.9 436.5,168.9 436.9,168.9 437.3,168.9 437.7,168.8 438.1,168.8 438.5,168.8 438.9,168.8 439.3,168.7 439.7,168.7 440.1,168.7 440.5,168.6 440.9,168.6 441.3,168.5 441.7,168.5 442.1,168.4 442.5,168.3 442.9,168.2 443.3,168.1 443.7,168.0 444.1,167.9 444.5,167.8 444.9,167.6 445.3,167.5 445.7,167.3 446.1,167.0 446.5,166.7 446.9,166.4 447.3,166.0 447.7,165.5 448.1,165.0 448.5,164.3 448.9,163.5 449.3,162.5 449.7,161.4 450.1,160.1 450.5,158.6 450.9,156.9 451.3,155.0 451.7,152.8 452.1,150.5 452.5,148.1 452.9,145.5 453.3,142.9 453.7,140.4 454.1,138.1 454.5,136.1 454.9,134.7 455.3,134.0 455.7,134.0 456.1,134.7 456.5,136.2 456.9,138.1 457.3,140.5 457.7,143.0 458.1,145.6 458.5,148.2 458.9,150.7 459.3,153.0 459.7,155.2 460.1,157.1 460.5,158.8 460.9,160.4 461.3,161.7 461.7,162.8 462.1,163.8 462.5,164.6 462.9,165.3 463.3,165.9 463.7,166.4 464.1,166.8 464.5,167.2 464.9,167.5 465.3,167.8 465.7,168.0 466.1,168.2 466.5,168.4 466.9,168.5 467.3,168.6 467.7,168.8 468.1,168.9 468.5,169.0 468.9,169.1 469.3,169.2 469.7,169.3 470.1,169.3 470.5,169.4 470.9,169.5 471.3,169.5 471.7,169.6 472.1,169.7 472.5,169.7 472.9,169.8 473.3,169.8 473.7,169.9 474.1,169.9 474.5,169.9 474.9,170.0 475.3,170.0 475.7,170.1 476.1,170.1 476.5,170.1 476.9,170.2 477.3,170.2 477.7,170.2 478.1,170.2 478.5,170.3 478.9,170.3 479.3,170.3 479.7,170.3 480.1,170.4 480.5,170.4 480.9,170.4 481.3,170.4 481.7,170.5 482.1,170.5 482.5,170.5 482.9,170.5 483.3,170.5 483.7,170.6 484.1,170.6 484.5,170.6 484.9,170.6 485.3,170.6 485.7,170.6 486.1,170.7 486.5,170.7 486.9,170.7 487.3,170.7 487.7,170.7 488.1,170.7 488.5,170.8 488.9,170.8 489.3,170.8 489.7,170.8 490.1,170.8 490.5,170.8 490.9,170.8 491.3,170.9 491.7,170.9 492.1,170.9 492.5,170.9 492.9,170.9 493.3,170.9 493.7,170.9 494.1,170.9 494.5,171.0 494.9,171.0 495.3,171.0 495.7,171.0" fill="none" stroke="#ff00ff" stroke-width="1.9" stroke-linejoin="round"/>
<polyline points="366.1,209.2 366.5,209.2 366.9,209.2 367.3,209.2 367.7,209.2 368.1,209.2 368.5,209.2 368.9,209.2 369.3,209.2 369.7,209.2 370.1,209.2 370.5,209.2 370.9,209.2 371.3,209.2 371.7,209.2 372.1,209.2 372.5,209.2 372.9,209.2 373.3,209.2 373.7,209.2 374.1,209.2 374.5,209.1 374.9,209.1 375.3,209.1 375.7,209.1 376.1,209.1 376.5,209.1 376.9,209.1 377.3,209.1 377.7,209.0 378.1,209.0 378.5,209.0 378.9,209.0 379.3,209.0 379.7,208.9 380.1,208.9 380.5,208.9 380.9,208.9 381.3,208.8 381.7,208.8 382.1,208.8 382.5,208.7 382.9,208.7 383.3,208.6 383.7,208.6 384.1,208.5 384.5,208.5 384.9,208.4 385.3,208.4 385.7,208.3 386.1,208.2 386.5,208.2 386.9,208.1 387.3,208.0 387.7,207.9 388.1,207.8 388.5,207.7 388.9,207.6 389.3,207.5 389.7,207.4 390.1,207.3 390.5,207.1 390.9,207.0 391.3,206.9 391.7,206.7 392.1,206.6 392.5,206.4 392.9,206.3 393.3,206.1 393.7,205.9 394.1,205.7 394.5,205.5 394.9,205.3 395.3,205.2 395.7,204.9 396.1,204.7 396.5,204.5 396.9,204.3 397.3,204.1 397.7,203.9 398.1,203.6 398.5,203.4 398.9,203.2 399.3,202.9 399.7,202.7 400.1,202.5 400.5,202.2 400.9,202.0 401.3,201.8 401.7,201.5 402.1,201.3 402.5,201.1 402.9,200.9 403.3,200.7 403.7,200.5 404.1,200.3 404.5,200.1 404.9,199.9 405.3,199.8 405.7,199.6 406.1,199.5 406.5,199.4 406.9,199.3 407.3,199.2 407.7,199.1 408.1,199.1 408.5,199.1 408.9,199.0 409.3,199.1 409.7,199.1 410.1,199.1 410.5,199.2 410.9,199.2 411.3,199.3 411.7,199.4 412.1,199.5 412.5,199.6 412.9,199.7 413.3,199.8 413.7,200.0 414.1,200.1 414.5,200.2 414.9,200.4 415.3,200.5 415.7,200.6 416.1,200.8 416.5,200.9 416.9,201.0 417.3,201.2 417.7,201.3 418.1,201.4 418.5,201.6 418.9,201.7 419.3,201.8 419.7,201.9 420.1,202.0 420.5,202.1 420.9,202.2 421.3,202.4 421.7,202.5 422.1,202.6 422.5,202.7 422.9,202.9 423.3,203.0 423.7,203.2 424.1,203.4 424.5,203.5 424.9,203.7 425.3,203.9 425.7,204.1 426.1,204.3 426.5,204.5 426.9,204.8 427.3,205.0 427.7,205.2 428.1,205.4 428.5,205.6 428.9,205.8 429.3,206.0 429.7,206.2 430.1,206.4 430.5,206.6 430.9,206.8 431.3,207.0 431.7,207.1 432.1,207.3 432.5,207.4 432.9,207.6 433.3,207.7 433.7,207.8 434.1,207.9 434.5,208.0 434.9,208.1 435.3,208.2 435.7,208.2 436.1,208.3 436.5,208.4 436.9,208.4 437.3,208.4 437.7,208.5 438.1,208.5 438.5,208.5 438.9,208.5 439.3,208.5 439.7,208.5 440.1,208.5 440.5,208.5 440.9,208.5 441.3,208.4 441.7,208.4 442.1,208.3 442.5,208.3 442.9,208.2 443.3,208.1 443.7,208.0 444.1,207.8 444.5,207.6 444.9,207.4 445.3,207.2 445.7,206.9 446.1,206.6 446.5,206.2 446.9,205.8 447.3,205.3 447.7,204.7 448.1,204.1 448.5,203.3 448.9,202.6 449.3,201.7 449.7,200.7 450.1,199.7 450.5,198.7 450.9,197.6 451.3,196.4 451.7,195.2 452.1,194.0 452.5,192.9 452.9,191.8 453.3,190.9 453.7,190.0 454.1,189.4 454.5,189.0 454.9,188.8 455.3,188.9 455.7,189.2 456.1,189.7 456.5,190.5 456.9,191.4 457.3,192.5 457.7,193.6 458.1,194.8 458.5,196.0 458.9,197.2 459.3,198.3 459.7,199.4 460.1,200.5 460.5,201.5 460.9,202.4 461.3,203.3 461.7,204.0 462.1,204.7 462.5,205.4 462.9,205.9 463.3,206.4 463.7,206.9 464.1,207.2 464.5,207.6 464.9,207.9 465.3,208.1 465.7,208.3 466.1,208.5 466.5,208.7 466.9,208.8 467.3,208.9 467.7,209.0 468.1,209.1 468.5,209.2 468.9,209.3 469.3,209.4 469.7,209.4 470.1,209.5 470.5,209.5 470.9,209.6 471.3,209.6 471.7,209.7 472.1,209.7 472.5,209.8 472.9,209.8 473.3,209.8 473.7,209.9 474.1,209.9 474.5,209.9 474.9,210.0 475.3,210.0 475.7,210.0 476.1,210.0 476.5,210.1 476.9,210.1 477.3,210.1 477.7,210.1 478.1,210.2 478.5,210.2 478.9,210.2 479.3,210.2 479.7,210.2 480.1,210.2 480.5,210.3 480.9,210.3 481.3,210.3 481.7,210.3 482.1,210.3 482.5,210.3 482.9,210.4 483.3,210.4 483.7,210.4 484.1,210.4 484.5,210.4 484.9,210.4 485.3,210.4 485.7,210.4 486.1,210.5 486.5,210.5 486.9,210.5 487.3,210.5 487.7,210.5 488.1,210.5 488.5,210.5 488.9,210.5 489.3,210.5 489.7,210.5 490.1,210.6 490.5,210.6 490.9,210.6 491.3,210.6 491.7,210.6 492.1,210.6 492.5,210.6 492.9,210.6 493.3,210.6 493.7,210.6 494.1,210.6 494.5,210.6 494.9,210.7 495.3,210.7 495.7,210.7" fill="none" stroke="#888888" stroke-width="1.9" stroke-linejoin="round"/>
<polyline points="366.1,245.5 366.5,245.5 366.9,245.5 367.3,245.5 367.7,245.5 368.1,245.5 368.5,245.5 368.9,245.5 369.3,245.5 369.7,245.5 370.1,245.5 370.5,245.5 370.9,245.5 371.3,245.4 371.7,245.4 372.1,245.4 372.5,245.4 372.9,245.4 373.3,245.4 373.7,245.4 374.1,245.4 374.5,245.4 374.9,245.4 375.3,245.4 375.7,245.4 376.1,245.4 376.5,245.4 376.9,245.4 377.3,245.4 377.7,245.4 378.1,245.4 378.5,245.4 378.9,245.4 379.3,245.4 379.7,245.4 380.1,245.4 380.5,245.3 380.9,245.3 381.3,245.3 381.7,245.3 382.1,245.3 382.5,245.3 382.9,245.3 383.3,245.3 383.7,245.3 384.1,245.3 384.5,245.3 384.9,245.3 385.3,245.2 385.7,245.2 386.1,245.2 386.5,245.2 386.9,245.2 387.3,245.2 387.7,245.2 388.1,245.2 388.5,245.1 388.9,245.1 389.3,245.1 389.7,245.1 390.1,245.1 390.5,245.0 390.9,245.0 391.3,245.0 391.7,245.0 392.1,244.9 392.5,244.9 392.9,244.9 393.3,244.8 393.7,244.8 394.1,244.8 394.5,244.7 394.9,244.6 395.3,244.6 395.7,244.5 396.1,244.4 396.5,244.3 396.9,244.2 397.3,244.0 397.7,243.8 398.1,243.6 398.5,243.3 398.9,243.0 399.3,242.6 399.7,242.1 400.1,241.6 400.5,241.0 400.9,240.2 401.3,239.4 401.7,238.4 402.1,237.3 402.5,236.0 402.9,234.7 403.3,233.2 403.7,231.6 404.1,229.8 404.5,228.0 404.9,226.1 405.3,224.2 405.7,222.3 406.1,220.4 406.5,218.5 406.9,216.8 407.3,215.3 407.7,214.0 408.1,213.0 408.5,212.3 408.9,211.9 409.3,211.9 409.7,212.2 410.1,212.9 410.5,214.0 410.9,215.2 411.3,216.8 411.7,218.4 412.1,220.3 412.5,222.1 412.9,224.0 413.3,225.9 413.7,227.8 414.1,229.6 414.5,231.3 414.9,232.8 415.3,234.3 415.7,235.6 416.1,236.7 416.5,237.7 416.9,238.6 417.3,239.3 417.7,239.8 418.1,240.2 418.5,240.5 418.9,240.6 419.3,240.7 419.7,240.6 420.1,240.4 420.5,240.1 420.9,239.8 421.3,239.4 421.7,239.0 422.1,238.5 422.5,238.1 422.9,237.6 423.3,237.3 423.7,236.9 424.1,236.7 424.5,236.6 424.9,236.6 425.3,236.7 425.7,237.0 426.1,237.3 426.5,237.8 426.9,238.3 427.3,238.8 427.7,239.4 428.1,240.0 428.5,240.5 428.9,241.1 429.3,241.6 429.7,242.1 430.1,242.5 430.5,242.9 430.9,243.3 431.3,243.6 431.7,243.8 432.1,244.0 432.5,244.2 432.9,244.4 433.3,244.5 433.7,244.6 434.1,244.7 434.5,244.8 434.9,244.8 435.3,244.9 435.7,244.9 436.1,244.9 436.5,244.9 436.9,244.9 437.3,245.0 437.7,245.0 438.1,245.0 438.5,245.0 438.9,245.0 439.3,245.0 439.7,245.0 440.1,245.0 440.5,245.0 440.9,245.0 441.3,245.0 441.7,244.9 442.1,244.9 442.5,244.9 442.9,244.9 443.3,244.8 443.7,244.8 444.1,244.7 444.5,244.7 444.9,244.6 445.3,244.5 445.7,244.3 446.1,244.2 446.5,244.0 446.9,243.8 447.3,243.5 447.7,243.2 448.1,242.8 448.5,242.4 448.9,242.0 449.3,241.5 449.7,241.0 450.1,240.4 450.5,239.7 450.9,239.1 451.3,238.4 451.7,237.7 452.1,237.1 452.5,236.4 452.9,235.8 453.3,235.2 453.7,234.8 454.1,234.4 454.5,234.2 454.9,234.1 455.3,234.1 455.7,234.3 456.1,234.6 456.5,235.0 456.9,235.5 457.3,236.1 457.7,236.8 458.1,237.4 458.5,238.1 458.9,238.8 459.3,239.5 459.7,240.1 460.1,240.7 460.5,241.3 460.9,241.8 461.3,242.3 461.7,242.7 462.1,243.1 462.5,243.4 462.9,243.7 463.3,244.0 463.7,244.2 464.1,244.4 464.5,244.5 464.9,244.7 465.3,244.8 465.7,244.8 466.1,244.9 466.5,245.0 466.9,245.0 467.3,245.1 467.7,245.1 468.1,245.1 468.5,245.2 468.9,245.2 469.3,245.2 469.7,245.2 470.1,245.3 470.5,245.3 470.9,245.3 471.3,245.3 471.7,245.3 472.1,245.3 472.5,245.3 472.9,245.3 473.3,245.3 473.7,245.4 474.1,245.4 474.5,245.4 474.9,245.4 475.3,245.4 475.7,245.4 476.1,245.4 476.5,245.4 476.9,245.4 477.3,245.4 477.7,245.4 478.1,245.4 478.5,245.4 478.9,245.4 479.3,245.4 479.7,245.4 480.1,245.4 480.5,245.4 480.9,245.5 481.3,245.5 481.7,245.5 482.1,245.5 482.5,245.5 482.9,245.5 483.3,245.5 483.7,245.5 484.1,245.5 484.5,245.5 484.9,245.5 485.3,245.5 485.7,245.5 486.1,245.5 486.5,245.5 486.9,245.5 487.3,245.5 487.7,245.5 488.1,245.5 488.5,245.5 488.9,245.5 489.3,245.5 489.7,245.5 490.1,245.5 490.5,245.5 490.9,245.5 491.3,245.5 491.7,245.5 492.1,245.5 492.5,245.5 492.9,245.5 493.3,245.5 493.7,245.5 494.1,245.5 494.5,245.5 494.9,245.5 495.3,245.5 495.7,245.5" fill="none" stroke="#000000" stroke-width="1.9" stroke-linejoin="round"/>
<line x1="408.8" y1="83" x2="408.8" y2="211.8" stroke="#333" stroke-width="1.6" stroke-dasharray="7.4 6"/>
<line x1="455.6" y1="29" x2="455.6" y2="234.2" stroke="#333" stroke-width="1.6" stroke-dasharray="7 6.6" stroke-dashoffset="2.2"/>
<rect x="365.5" y="1.5" width="131.0" height="251.0" fill="none" stroke="#000" stroke-width="1.3"/>
<line x1="379.63" y1="252.5" x2="379.63" y2="255.7" stroke="#000" stroke-width="1.3"/>
<line x1="412.50" y1="252.5" x2="412.50" y2="259.3" stroke="#000" stroke-width="1.3"/>
<line x1="445.37" y1="252.5" x2="445.37" y2="255.7" stroke="#000" stroke-width="1.3"/>
<line x1="478.25" y1="252.5" x2="478.25" y2="259.3" stroke="#000" stroke-width="1.3"/>
<text x="412.2" y="280.4" font-size="18.6" text-anchor="middle" textLength="37.3" lengthAdjust="spacingAndGlyphs" >6.55</text>
<text x="477.6" y="280.4" font-size="18.6" text-anchor="middle" textLength="26.5" lengthAdjust="spacingAndGlyphs" >6.9</text>
<text x="364.2" y="302.8" font-size="18.8" textLength="133.5" lengthAdjust="spacingAndGlyphs" >2Theta(degree)</text>
<text x="356.7" y="213" font-size="19.3" textLength="170" lengthAdjust="spacingAndGlyphs" transform="rotate(-90 356.7 213)" >Intensity (Arb. unit)</text>
<text x="386.6" y="69.4" font-size="17.6" textLength="40.6" lengthAdjust="spacingAndGlyphs" >(220)</text>
<text x="429.6" y="74.4" font-size="11.2" textLength="6.6" lengthAdjust="spacingAndGlyphs" >H</text>
<text x="439.3" y="21.6" font-size="17.8" textLength="39.8" lengthAdjust="spacingAndGlyphs" >(110)</text>
<text x="481.4" y="27.3" font-size="13" textLength="7" lengthAdjust="spacingAndGlyphs" >α</text>
<text x="340.4" y="23.6" font-size="30" textLength="17.2" lengthAdjust="spacingAndGlyphs" font-weight="bold" >b</text>
<line x1="551.5" y1="238.00" x2="559" y2="238.00" stroke="#000" stroke-width="1.3"/>
<text x="546.5" y="244.60" font-size="18.6" text-anchor="end" textLength="20.6" lengthAdjust="spacingAndGlyphs" >10</text>
<line x1="551.5" y1="210.15" x2="559" y2="210.15" stroke="#000" stroke-width="1.3"/>
<text x="546.5" y="216.75" font-size="18.6" text-anchor="end" textLength="20.6" lengthAdjust="spacingAndGlyphs" >20</text>
<line x1="551.5" y1="182.30" x2="559" y2="182.30" stroke="#000" stroke-width="1.3"/>
<text x="546.5" y="188.90" font-size="18.6" text-anchor="end" textLength="20.6" lengthAdjust="spacingAndGlyphs" >30</text>
<line x1="551.5" y1="154.45" x2="559" y2="154.45" stroke="#000" stroke-width="1.3"/>
<text x="546.5" y="161.05" font-size="18.6" text-anchor="end" textLength="20.6" lengthAdjust="spacingAndGlyphs" >40</text>
<line x1="551.5" y1="126.60" x2="559" y2="126.60" stroke="#000" stroke-width="1.3"/>
<text x="546.5" y="133.20" font-size="18.6" text-anchor="end" textLength="20.6" lengthAdjust="spacingAndGlyphs" >50</text>
<line x1="551.5" y1="98.75" x2="559" y2="98.75" stroke="#000" stroke-width="1.3"/>
<text x="546.5" y="105.35" font-size="18.6" text-anchor="end" textLength="20.6" lengthAdjust="spacingAndGlyphs" >60</text>
<line x1="551.5" y1="70.90" x2="559" y2="70.90" stroke="#000" stroke-width="1.3"/>
<text x="546.5" y="77.50" font-size="18.6" text-anchor="end" textLength="20.6" lengthAdjust="spacingAndGlyphs" >70</text>
<line x1="551.5" y1="43.05" x2="559" y2="43.05" stroke="#000" stroke-width="1.3"/>
<text x="546.5" y="49.65" font-size="18.6" text-anchor="end" textLength="20.6" lengthAdjust="spacingAndGlyphs" >80</text>
<line x1="551.5" y1="15.20" x2="559" y2="15.20" stroke="#000" stroke-width="1.3"/>
<text x="546.5" y="21.80" font-size="18.6" text-anchor="end" textLength="20.6" lengthAdjust="spacingAndGlyphs" >90</text>
<line x1="567.00" y1="252" x2="567.00" y2="259.3" stroke="#000" stroke-width="1.3"/>
<line x1="584.33" y1="252" x2="584.33" y2="259.3" stroke="#000" stroke-width="1.3"/>
<line x1="601.66" y1="252" x2="601.66" y2="259.3" stroke="#000" stroke-width="1.3"/>
<line x1="618.99" y1="252" x2="618.99" y2="259.3" stroke="#000" stroke-width="1.3"/>
<line x1="636.32" y1="252" x2="636.32" y2="259.3" stroke="#000" stroke-width="1.3"/>
<line x1="653.65" y1="252" x2="653.65" y2="259.3" stroke="#000" stroke-width="1.3"/>
<line x1="670.98" y1="252" x2="670.98" y2="259.3" stroke="#000" stroke-width="1.3"/>
<rect x="559" y="1.5" width="120.75" height="250.5" fill="none" stroke="#000" stroke-width="1.3"/>
<polyline points="567,184 584.5,155.5 601.5,127 636,72.5 671,25" fill="none" stroke="#0000ff" stroke-width="1.6"/>
<circle cx="567" cy="184" r="4.6" fill="#0000ff"/>
<circle cx="584.5" cy="155.5" r="4.6" fill="#0000ff"/>
<circle cx="601.5" cy="127" r="4.6" fill="#0000ff"/>
<circle cx="636" cy="72.5" r="4.6" fill="#0000ff"/>
<circle cx="671" cy="25" r="4.6" fill="#0000ff"/>
<polyline points="567,70.25 584.5,99 601.5,126.25 636,182 671,228.75" fill="none" stroke="#ff0000" stroke-width="1.6"/>
<circle cx="567" cy="70.25" r="4.6" fill="#ff0000"/>
<circle cx="584.5" cy="99" r="4.6" fill="#ff0000"/>
<circle cx="601.5" cy="126.25" r="4.6" fill="#ff0000"/>
<circle cx="636" cy="182" r="4.6" fill="#ff0000"/>
<circle cx="671" cy="228.75" r="4.6" fill="#ff0000"/>
<line x1="582.75" y1="29.5" x2="631.5" y2="29.5" stroke="#0000ff" stroke-width="1.6"/><circle cx="607" cy="29.5" r="4.6" fill="#0000ff"/>
<line x1="582.75" y1="235" x2="631.5" y2="235" stroke="#ff0000" stroke-width="1.6"/><circle cx="607" cy="235" r="4.6" fill="#ff0000"/>
<text x="637.75" y="36.6" font-size="18" textLength="10.5" lengthAdjust="spacingAndGlyphs" >H</text>
<text x="637.25" y="242" font-size="18" textLength="10.5" lengthAdjust="spacingAndGlyphs" >α</text>
<text x="518.25" y="147.2" font-size="18.3" textLength="60.3" lengthAdjust="spacingAndGlyphs" transform="rotate(-90 518.25 147.2)" >Mass%</text>
<text x="553.7" y="280" font-size="18" textLength="30.5" lengthAdjust="spacingAndGlyphs" >(S-3</text>
<text x="652.75" y="280" font-size="18" textLength="32.2" lengthAdjust="spacingAndGlyphs" >S-9)</text>
<line x1="587.7" y1="273" x2="632" y2="273" stroke="#000" stroke-width="1.8"/><path d="M630,269.3 L644.5,273 L630,276.7 Z" fill="#000"/>
<text x="534.5" y="303" font-size="18.8" textLength="147.5" lengthAdjust="spacingAndGlyphs" >Content of phase</text>
<text x="501.2" y="23.2" font-size="30" textLength="14.2" lengthAdjust="spacingAndGlyphs" font-weight="bold" >c</text>
<line x1="28.7" y1="315.8" x2="683.6" y2="315.8" stroke="#1e1e1e" stroke-width="1.6" stroke-dasharray="5.7 3.91" stroke-dashoffset="4.01"/>
<line x1="682.8" y1="315.8" x2="682.8" y2="527.5" stroke="#1e1e1e" stroke-width="1.6" stroke-dasharray="5.2 4.28" stroke-dashoffset="4.88"/>
<line x1="28.7" y1="527.0" x2="683.6" y2="527.0" stroke="#1e1e1e" stroke-width="1.6" stroke-dasharray="5.2 4.15" stroke-dashoffset="2.85"/>
<line x1="28.7" y1="315.8" x2="28.7" y2="527.5" stroke="#1e1e1e" stroke-width="1.6" stroke-dasharray="5.1 4.45" stroke-dashoffset="0.75"/>
<text x="-1.6" y="341.6" font-size="30" textLength="18.8" lengthAdjust="spacingAndGlyphs" font-weight="bold" >d</text>
<defs>
<radialGradient id="fe" cx="0.42" cy="0.4" r="0.62"><stop offset="0" stop-color="#b4b4ff"/><stop offset="0.5" stop-color="#6a6ae4"/><stop offset="1" stop-color="#3c3cb4"/></radialGradient>
<radialGradient id="ho" cx="0.42" cy="0.4" r="0.62"><stop offset="0" stop-color="#f87a86"/><stop offset="0.5" stop-color="#d8283a"/><stop offset="1" stop-color="#a8182a"/></radialGradient>
</defs>
<polygon points="163.30,375.80 131.69,394.05 131.69,430.55 163.30,448.80 194.91,430.55 194.91,394.05" fill="#cfcfe8"/>
<polygon points="163.30,377.80 133.42,395.05 133.42,429.55 163.30,446.80 193.18,429.55 193.18,395.05" fill="#c4c4f4"/>
<polygon points="223.90,375.80 192.29,394.05 192.29,430.55 223.90,448.80 255.51,430.55 255.51,394.05" fill="#cfcfe8"/>
<polygon points="223.90,377.80 194.02,395.05 194.02,429.55 223.90,446.80 253.78,429.55 253.78,395.05" fill="#c4c4f4"/>
<polygon points="190.30,395.50 196.70,395.50 196.70,429.00 190.30,429.00" fill="#b4b4e2"/>
<polygon points="102.30,371.70 67.23,391.95 67.23,432.45 102.30,452.70 137.37,432.45 137.37,391.95" fill="#c6c6e0"/>
<polygon points="102.30,375.20 70.26,393.70 70.26,430.70 102.30,449.20 134.34,430.70 134.34,393.70" fill="#9c9ce4"/>
<polygon points="132.40,412.20 117.35,386.13 87.25,386.13 72.20,412.20 87.25,438.27 117.35,438.27" fill="#b0b0ee"/>
<polygon points="132.40,412.20 87.25,386.13 87.25,438.27" fill="#dadafa"/>
<polygon points="117.35,386.13 72.20,412.20 117.35,438.27" fill="#dadafa"/>
<polygon points="102.30,395.40 87.75,403.80 87.75,420.60 102.30,429.00 116.85,420.60 116.85,403.80" fill="#fdfdff"/>
<polygon points="193.50,319.10 158.43,339.35 158.43,379.85 193.50,400.10 228.57,379.85 228.57,339.35" fill="#c6c6e0"/>
<polygon points="193.50,322.60 161.46,341.10 161.46,378.10 193.50,396.60 225.54,378.10 225.54,341.10" fill="#9c9ce4"/>
<polygon points="223.60,359.60 208.55,333.53 178.45,333.53 163.40,359.60 178.45,385.67 208.55,385.67" fill="#b0b0ee"/>
<polygon points="223.60,359.60 178.45,333.53 178.45,385.67" fill="#dadafa"/>
<polygon points="208.55,333.53 163.40,359.60 208.55,385.67" fill="#dadafa"/>
<polygon points="193.50,342.80 178.95,351.20 178.95,368.00 193.50,376.40 208.05,368.00 208.05,351.20" fill="#fdfdff"/>
<polygon points="193.50,424.10 158.43,444.35 158.43,484.85 193.50,505.10 228.57,484.85 228.57,444.35" fill="#c6c6e0"/>
<polygon points="193.50,427.60 161.46,446.10 161.46,483.10 193.50,501.60 225.54,483.10 225.54,446.10" fill="#9c9ce4"/>
<polygon points="223.60,464.60 208.55,438.53 178.45,438.53 163.40,464.60 178.45,490.67 208.55,490.67" fill="#b0b0ee"/>
<polygon points="223.60,464.60 178.45,438.53 178.45,490.67" fill="#dadafa"/>
<polygon points="208.55,438.53 163.40,464.60 208.55,490.67" fill="#dadafa"/>
<polygon points="193.50,447.80 178.95,456.20 178.95,473.00 193.50,481.40 208.05,473.00 208.05,456.20" fill="#fdfdff"/>
<polygon points="284.50,371.70 249.43,391.95 249.43,432.45 284.50,452.70 319.57,432.45 319.57,391.95" fill="#c6c6e0"/>
<polygon points="284.50,375.20 252.46,393.70 252.46,430.70 284.50,449.20 316.54,430.70 316.54,393.70" fill="#9c9ce4"/>
<polygon points="314.60,412.20 299.55,386.13 269.45,386.13 254.40,412.20 269.45,438.27 299.55,438.27" fill="#b0b0ee"/>
<polygon points="314.60,412.20 269.45,386.13 269.45,438.27" fill="#dadafa"/>
<polygon points="299.55,386.13 254.40,412.20 299.55,438.27" fill="#dadafa"/>
<polygon points="284.50,395.40 269.95,403.80 269.95,420.60 284.50,429.00 299.05,420.60 299.05,403.80" fill="#fdfdff"/>
<line x1="163.3" y1="412.3" x2="163.30" y2="377.80" stroke="#d2d2f8" stroke-width="0.5"/>
<line x1="163.3" y1="412.3" x2="133.42" y2="395.05" stroke="#d2d2f8" stroke-width="0.5"/>
<line x1="163.3" y1="412.3" x2="133.42" y2="429.55" stroke="#d2d2f8" stroke-width="0.5"/>
<line x1="163.3" y1="412.3" x2="163.30" y2="446.80" stroke="#d2d2f8" stroke-width="0.5"/>
<line x1="163.3" y1="412.3" x2="193.18" y2="429.55" stroke="#d2d2f8" stroke-width="0.5"/>
<line x1="163.3" y1="412.3" x2="193.18" y2="395.05" stroke="#d2d2f8" stroke-width="0.5"/>
<line x1="163.3" y1="412.3" x2="193.90" y2="412.30" stroke="#d2d2f8" stroke-width="0.5"/>
<line x1="163.3" y1="412.3" x2="178.60" y2="385.80" stroke="#d2d2f8" stroke-width="0.5"/>
<line x1="163.3" y1="412.3" x2="148.00" y2="385.80" stroke="#d2d2f8" stroke-width="0.5"/>
<line x1="163.3" y1="412.3" x2="132.70" y2="412.30" stroke="#d2d2f8" stroke-width="0.5"/>
<line x1="163.3" y1="412.3" x2="148.00" y2="438.80" stroke="#d2d2f8" stroke-width="0.5"/>
<line x1="163.3" y1="412.3" x2="178.60" y2="438.80" stroke="#d2d2f8" stroke-width="0.5"/>
<line x1="223.9" y1="412.3" x2="223.90" y2="377.80" stroke="#d2d2f8" stroke-width="0.5"/>
<line x1="223.9" y1="412.3" x2="194.02" y2="395.05" stroke="#d2d2f8" stroke-width="0.5"/>
<line x1="223.9" y1="412.3" x2="194.02" y2="429.55" stroke="#d2d2f8" stroke-width="0.5"/>
<line x1="223.9" y1="412.3" x2="223.90" y2="446.80" stroke="#d2d2f8" stroke-width="0.5"/>
<line x1="223.9" y1="412.3" x2="253.78" y2="429.55" stroke="#d2d2f8" stroke-width="0.5"/>
<line x1="223.9" y1="412.3" x2="253.78" y2="395.05" stroke="#d2d2f8" stroke-width="0.5"/>
<line x1="223.9" y1="412.3" x2="254.50" y2="412.30" stroke="#d2d2f8" stroke-width="0.5"/>
<line x1="223.9" y1="412.3" x2="239.20" y2="385.80" stroke="#d2d2f8" stroke-width="0.5"/>
<line x1="223.9" y1="412.3" x2="208.60" y2="385.80" stroke="#d2d2f8" stroke-width="0.5"/>
<line x1="223.9" y1="412.3" x2="193.30" y2="412.30" stroke="#d2d2f8" stroke-width="0.5"/>
<line x1="223.9" y1="412.3" x2="208.60" y2="438.80" stroke="#d2d2f8" stroke-width="0.5"/>
<line x1="223.9" y1="412.3" x2="239.20" y2="438.80" stroke="#d2d2f8" stroke-width="0.5"/>
<path d="M102.3,412.2 L193.5,359.6 L284.5,412.2 L193.5,464.6 Z" fill="none" stroke="#555" stroke-width="0.9" stroke-dasharray="3 2.2"/>
<circle cx="132.40" cy="412.20" r="3.4" fill="url(#fe)"/>
<circle cx="117.35" cy="386.13" r="3.4" fill="url(#fe)"/>
<circle cx="87.25" cy="386.13" r="3.4" fill="url(#fe)"/>
<circle cx="72.20" cy="412.20" r="3.4" fill="url(#fe)"/>
<circle cx="87.25" cy="438.27" r="3.4" fill="url(#fe)"/>
<circle cx="117.35" cy="438.27" r="3.4" fill="url(#fe)"/>
<circle cx="99.00" cy="375.70" r="3.4" fill="url(#fe)"/>
<circle cx="105.60" cy="375.70" r="3.4" fill="url(#fe)"/>
<circle cx="69.04" cy="396.81" r="3.4" fill="url(#fe)"/>
<circle cx="72.34" cy="391.09" r="3.4" fill="url(#fe)"/>
<circle cx="72.34" cy="433.31" r="3.4" fill="url(#fe)"/>
<circle cx="69.04" cy="427.59" r="3.4" fill="url(#fe)"/>
<circle cx="105.60" cy="448.70" r="3.4" fill="url(#fe)"/>
<circle cx="99.00" cy="448.70" r="3.4" fill="url(#fe)"/>
<circle cx="135.56" cy="427.59" r="3.4" fill="url(#fe)"/>
<circle cx="132.26" cy="433.31" r="3.4" fill="url(#fe)"/>
<circle cx="132.26" cy="391.09" r="3.4" fill="url(#fe)"/>
<circle cx="135.56" cy="396.81" r="3.4" fill="url(#fe)"/>
<circle cx="102.30" cy="412.20" r="6" fill="url(#ho)"/>
<circle cx="223.60" cy="359.60" r="3.4" fill="url(#fe)"/>
<circle cx="208.55" cy="333.53" r="3.4" fill="url(#fe)"/>
<circle cx="178.45" cy="333.53" r="3.4" fill="url(#fe)"/>
<circle cx="163.40" cy="359.60" r="3.4" fill="url(#fe)"/>
<circle cx="178.45" cy="385.67" r="3.4" fill="url(#fe)"/>
<circle cx="208.55" cy="385.67" r="3.4" fill="url(#fe)"/>
<circle cx="190.20" cy="323.10" r="3.4" fill="url(#fe)"/>
<circle cx="196.80" cy="323.10" r="3.4" fill="url(#fe)"/>
<circle cx="160.24" cy="344.21" r="3.4" fill="url(#fe)"/>
<circle cx="163.54" cy="338.49" r="3.4" fill="url(#fe)"/>
<circle cx="163.54" cy="380.71" r="3.4" fill="url(#fe)"/>
<circle cx="160.24" cy="374.99" r="3.4" fill="url(#fe)"/>
<circle cx="196.80" cy="396.10" r="3.4" fill="url(#fe)"/>
<circle cx="190.20" cy="396.10" r="3.4" fill="url(#fe)"/>
<circle cx="226.76" cy="374.99" r="3.4" fill="url(#fe)"/>
<circle cx="223.46" cy="380.71" r="3.4" fill="url(#fe)"/>
<circle cx="223.46" cy="338.49" r="3.4" fill="url(#fe)"/>
<circle cx="226.76" cy="344.21" r="3.4" fill="url(#fe)"/>
<circle cx="193.50" cy="359.60" r="6" fill="url(#ho)"/>
<circle cx="223.60" cy="464.60" r="3.4" fill="url(#fe)"/>
<circle cx="208.55" cy="438.53" r="3.4" fill="url(#fe)"/>
<circle cx="178.45" cy="438.53" r="3.4" fill="url(#fe)"/>
<circle cx="163.40" cy="464.60" r="3.4" fill="url(#fe)"/>
<circle cx="178.45" cy="490.67" r="3.4" fill="url(#fe)"/>
<circle cx="208.55" cy="490.67" r="3.4" fill="url(#fe)"/>
<circle cx="190.20" cy="428.10" r="3.4" fill="url(#fe)"/>
<circle cx="196.80" cy="428.10" r="3.4" fill="url(#fe)"/>
<circle cx="160.24" cy="449.21" r="3.4" fill="url(#fe)"/>
<circle cx="163.54" cy="443.49" r="3.4" fill="url(#fe)"/>
<circle cx="163.54" cy="485.71" r="3.4" fill="url(#fe)"/>
<circle cx="160.24" cy="479.99" r="3.4" fill="url(#fe)"/>
<circle cx="196.80" cy="501.10" r="3.4" fill="url(#fe)"/>
<circle cx="190.20" cy="501.10" r="3.4" fill="url(#fe)"/>
<circle cx="226.76" cy="479.99" r="3.4" fill="url(#fe)"/>
<circle cx="223.46" cy="485.71" r="3.4" fill="url(#fe)"/>
<circle cx="223.46" cy="443.49" r="3.4" fill="url(#fe)"/>
<circle cx="226.76" cy="449.21" r="3.4" fill="url(#fe)"/>
<circle cx="193.50" cy="464.60" r="6" fill="url(#ho)"/>
<circle cx="314.60" cy="412.20" r="3.4" fill="url(#fe)"/>
<circle cx="299.55" cy="386.13" r="3.4" fill="url(#fe)"/>
<circle cx="269.45" cy="386.13" r="3.4" fill="url(#fe)"/>
<circle cx="254.40" cy="412.20" r="3.4" fill="url(#fe)"/>
<circle cx="269.45" cy="438.27" r="3.4" fill="url(#fe)"/>
<circle cx="299.55" cy="438.27" r="3.4" fill="url(#fe)"/>
<circle cx="281.20" cy="375.70" r="3.4" fill="url(#fe)"/>
<circle cx="287.80" cy="375.70" r="3.4" fill="url(#fe)"/>
<circle cx="251.24" cy="396.81" r="3.4" fill="url(#fe)"/>
<circle cx="254.54" cy="391.09" r="3.4" fill="url(#fe)"/>
<circle cx="254.54" cy="433.31" r="3.4" fill="url(#fe)"/>
<circle cx="251.24" cy="427.59" r="3.4" fill="url(#fe)"/>
<circle cx="287.80" cy="448.70" r="3.4" fill="url(#fe)"/>
<circle cx="281.20" cy="448.70" r="3.4" fill="url(#fe)"/>
<circle cx="317.76" cy="427.59" r="3.4" fill="url(#fe)"/>
<circle cx="314.46" cy="433.31" r="3.4" fill="url(#fe)"/>
<circle cx="314.46" cy="391.09" r="3.4" fill="url(#fe)"/>
<circle cx="317.76" cy="396.81" r="3.4" fill="url(#fe)"/>
<circle cx="284.50" cy="412.20" r="6" fill="url(#ho)"/>
<circle cx="193.90" cy="412.30" r="3.4" fill="url(#fe)"/>
<circle cx="178.60" cy="385.80" r="3.4" fill="url(#fe)"/>
<circle cx="148.00" cy="385.80" r="3.4" fill="url(#fe)"/>
<circle cx="132.70" cy="412.30" r="3.4" fill="url(#fe)"/>
<circle cx="148.00" cy="438.80" r="3.4" fill="url(#fe)"/>
<circle cx="178.60" cy="438.80" r="3.4" fill="url(#fe)"/>
<circle cx="254.50" cy="412.30" r="3.4" fill="url(#fe)"/>
<circle cx="239.20" cy="385.80" r="3.4" fill="url(#fe)"/>
<circle cx="208.60" cy="385.80" r="3.4" fill="url(#fe)"/>
<circle cx="193.30" cy="412.30" r="3.4" fill="url(#fe)"/>
<circle cx="208.60" cy="438.80" r="3.4" fill="url(#fe)"/>
<circle cx="239.20" cy="438.80" r="3.4" fill="url(#fe)"/>
<circle cx="163.30" cy="412.30" r="6" fill="url(#ho)"/>
<line x1="163.3" y1="412.3" x2="167.63" y2="409.80" stroke="#ffc0c0" stroke-width="0.5"/>
<line x1="163.3" y1="412.3" x2="163.30" y2="407.30" stroke="#ffc0c0" stroke-width="0.5"/>
<line x1="163.3" y1="412.3" x2="158.97" y2="409.80" stroke="#ffc0c0" stroke-width="0.5"/>
<line x1="163.3" y1="412.3" x2="158.97" y2="414.80" stroke="#ffc0c0" stroke-width="0.5"/>
<line x1="163.3" y1="412.3" x2="163.30" y2="417.30" stroke="#ffc0c0" stroke-width="0.5"/>
<line x1="163.3" y1="412.3" x2="167.63" y2="414.80" stroke="#ffc0c0" stroke-width="0.5"/>
<circle cx="223.90" cy="412.30" r="6" fill="url(#ho)"/>
<circle cx="223.90" cy="412.30" r="3.2" fill="url(#fe)"/>
<line x1="92.6" y1="484.1" x2="71" y2="471.5" stroke="#22cc22" stroke-width="2.2"/><path d="M66.5,468.8 L75.6,469.6 L71.6,476.3 Z" fill="#22cc22"/>
<line x1="92.6" y1="484.1" x2="114.5" y2="471.2" stroke="#dd2222" stroke-width="2.2"/><path d="M119.5,468.4 L110.4,469.2 L114.4,475.9 Z" fill="#dd2222"/>
<circle cx="92.6" cy="484.1" r="3.8" fill="#000088"/>
<text x="58.3" y="466.3" font-size="23" textLength="11.2" lengthAdjust="spacingAndGlyphs" >a</text>
<text x="120.6" y="468.6" font-size="23.5" textLength="11.6" lengthAdjust="spacingAndGlyphs" >b</text>
<text x="253.6" y="345.6" font-size="19" textLength="48.8" lengthAdjust="spacingAndGlyphs" >[HoFe</text>
<text x="304.8" y="350.7" font-size="13" textLength="13.5" lengthAdjust="spacingAndGlyphs" >16</text>
<text x="319.6" y="345.6" font-size="19" textLength="51.5" lengthAdjust="spacingAndGlyphs" >] cage</text>
<line x1="251" y1="352.3" x2="240" y2="356.4" stroke="#000" stroke-width="1.6"/><path d="M235.4,358.2 L241.6,352.4 L243.6,358.4 Z" fill="#000"/>
<line x1="331.7" y1="356" x2="337.6" y2="364.8" stroke="#000" stroke-width="1.6"/><path d="M340.3,369.1 L333.6,364 L339.6,360.6 Z" fill="#000"/>
<polygon points="343.50,358.50 500.00,358.50 500.50,412.00 503.00,440.00 499.50,466.50 345.00,466.50" fill="#a2a2ec"/>
<polygon points="407.00,361.00 437.00,361.00 437.00,417.00 407.00,407.00" fill="#c8c8f8"/>
<polygon points="437.00,361.00 452.00,361.00 437.00,387.00" fill="#8888de"/>
<polygon points="437.00,387.00 452.00,413.00 437.00,413.00" fill="#8c8ce0"/>
<polygon points="452.00,361.00 467.00,361.00 467.00,387.00" fill="#9292e2"/>
<polygon points="467.00,387.00 467.00,413.00 452.00,413.00" fill="#9494e4"/>
<polygon points="467.00,360.00 500.00,360.00 500.00,413.00 467.00,413.00" fill="#b0b0f2"/>
<polygon points="345.00,360.00 362.00,362.00 362.00,409.00 345.00,410.00" fill="#aaaaee"/>
<polygon points="409.00,410.00 437.00,420.00 437.00,465.00 409.00,465.00" fill="#cecefa"/>
<polygon points="377.00,415.00 392.00,415.00 377.00,439.00" fill="#8c8ce0"/>
<polygon points="377.00,439.00 392.00,465.00 377.00,465.00" fill="#9090e2"/>
<polygon points="392.00,415.00 407.00,415.00 407.00,439.00" fill="#8888de"/>
<polygon points="407.00,439.00 407.00,465.00 392.00,465.00" fill="#8c8ce0"/>
<polygon points="437.00,414.00 501.00,414.00 503.00,440.00 499.50,465.00 437.00,465.00" fill="#b0b0f2"/>
<line x1="377.3" y1="386.9" x2="362.3" y2="360.9" stroke="#d0d0f8" stroke-width="0.7" stroke-opacity="0.8"/>
<line x1="377.3" y1="386.9" x2="392.3" y2="360.9" stroke="#d0d0f8" stroke-width="0.7" stroke-opacity="0.8"/>
<line x1="377.3" y1="386.9" x2="362.3" y2="412.9" stroke="#d0d0f8" stroke-width="0.7" stroke-opacity="0.8"/>
<line x1="377.3" y1="386.9" x2="392.3" y2="412.9" stroke="#d0d0f8" stroke-width="0.7" stroke-opacity="0.8"/>
<line x1="377.3" y1="386.9" x2="347.3" y2="386.9" stroke="#d0d0f8" stroke-width="0.7" stroke-opacity="0.8"/>
<line x1="377.3" y1="386.9" x2="407.3" y2="386.9" stroke="#d0d0f8" stroke-width="0.7" stroke-opacity="0.8"/>
<line x1="437.5" y1="386.9" x2="422.5" y2="360.9" stroke="#d0d0f8" stroke-width="0.7" stroke-opacity="0.8"/>
<line x1="437.5" y1="386.9" x2="452.5" y2="360.9" stroke="#d0d0f8" stroke-width="0.7" stroke-opacity="0.8"/>
<line x1="437.5" y1="386.9" x2="422.5" y2="412.9" stroke="#d0d0f8" stroke-width="0.7" stroke-opacity="0.8"/>
<line x1="437.5" y1="386.9" x2="452.5" y2="412.9" stroke="#d0d0f8" stroke-width="0.7" stroke-opacity="0.8"/>
<line x1="437.5" y1="386.9" x2="407.5" y2="386.9" stroke="#d0d0f8" stroke-width="0.7" stroke-opacity="0.8"/>
<line x1="437.5" y1="386.9" x2="467.5" y2="386.9" stroke="#d0d0f8" stroke-width="0.7" stroke-opacity="0.8"/>
<line x1="467.2" y1="386.9" x2="452.2" y2="360.9" stroke="#d0d0f8" stroke-width="0.7" stroke-opacity="0.8"/>
<line x1="467.2" y1="386.9" x2="482.2" y2="360.9" stroke="#d0d0f8" stroke-width="0.7" stroke-opacity="0.8"/>
<line x1="467.2" y1="386.9" x2="452.2" y2="412.9" stroke="#d0d0f8" stroke-width="0.7" stroke-opacity="0.8"/>
<line x1="467.2" y1="386.9" x2="482.2" y2="412.9" stroke="#d0d0f8" stroke-width="0.7" stroke-opacity="0.8"/>
<line x1="467.2" y1="386.9" x2="437.2" y2="386.9" stroke="#d0d0f8" stroke-width="0.7" stroke-opacity="0.8"/>
<line x1="467.2" y1="386.9" x2="497.2" y2="386.9" stroke="#d0d0f8" stroke-width="0.7" stroke-opacity="0.8"/>
<line x1="377.3" y1="439" x2="362.3" y2="413" stroke="#d0d0f8" stroke-width="0.7" stroke-opacity="0.8"/>
<line x1="377.3" y1="439" x2="392.3" y2="413" stroke="#d0d0f8" stroke-width="0.7" stroke-opacity="0.8"/>
<line x1="377.3" y1="439" x2="362.3" y2="465" stroke="#d0d0f8" stroke-width="0.7" stroke-opacity="0.8"/>
<line x1="377.3" y1="439" x2="392.3" y2="465" stroke="#d0d0f8" stroke-width="0.7" stroke-opacity="0.8"/>
<line x1="377.3" y1="439" x2="347.3" y2="439" stroke="#d0d0f8" stroke-width="0.7" stroke-opacity="0.8"/>
<line x1="377.3" y1="439" x2="407.3" y2="439" stroke="#d0d0f8" stroke-width="0.7" stroke-opacity="0.8"/>
<line x1="407" y1="439" x2="392" y2="413" stroke="#d0d0f8" stroke-width="0.7" stroke-opacity="0.8"/>
<line x1="407" y1="439" x2="422" y2="413" stroke="#d0d0f8" stroke-width="0.7" stroke-opacity="0.8"/>
<line x1="407" y1="439" x2="392" y2="465" stroke="#d0d0f8" stroke-width="0.7" stroke-opacity="0.8"/>
<line x1="407" y1="439" x2="422" y2="465" stroke="#d0d0f8" stroke-width="0.7" stroke-opacity="0.8"/>
<line x1="407" y1="439" x2="377" y2="439" stroke="#d0d0f8" stroke-width="0.7" stroke-opacity="0.8"/>
<line x1="407" y1="439" x2="437" y2="439" stroke="#d0d0f8" stroke-width="0.7" stroke-opacity="0.8"/>
<line x1="467.4" y1="439" x2="452.4" y2="413" stroke="#d0d0f8" stroke-width="0.7" stroke-opacity="0.8"/>
<line x1="467.4" y1="439" x2="482.4" y2="413" stroke="#d0d0f8" stroke-width="0.7" stroke-opacity="0.8"/>
<line x1="467.4" y1="439" x2="452.4" y2="465" stroke="#d0d0f8" stroke-width="0.7" stroke-opacity="0.8"/>
<line x1="467.4" y1="439" x2="482.4" y2="465" stroke="#d0d0f8" stroke-width="0.7" stroke-opacity="0.8"/>
<line x1="467.4" y1="439" x2="437.4" y2="439" stroke="#d0d0f8" stroke-width="0.7" stroke-opacity="0.8"/>
<line x1="467.4" y1="439" x2="497.4" y2="439" stroke="#d0d0f8" stroke-width="0.7" stroke-opacity="0.8"/>
<polygon points="345.00,409.00 407.00,407.00 437.00,417.00 502.00,409.00 502.00,415.00 437.00,423.00 407.00,413.00 345.00,416.00" fill="#9c9cd8" fill-opacity="0.45"/>
<rect x="377.2" y="361.2" width="90.2" height="103.8" fill="none" stroke="#333" stroke-width="0.9" stroke-dasharray="3 2.2"/>
<circle cx="347.20" cy="359.60" r="3.4" fill="url(#fe)"/>
<circle cx="347.20" cy="414.00" r="3.4" fill="url(#fe)"/>
<circle cx="347.20" cy="463.60" r="3.4" fill="url(#fe)"/>
<circle cx="362.20" cy="362.50" r="3.4" fill="url(#fe)"/>
<circle cx="362.20" cy="411.20" r="3.4" fill="url(#fe)"/>
<circle cx="362.20" cy="466.50" r="3.4" fill="url(#fe)"/>
<circle cx="377.30" cy="360.80" r="3.4" fill="url(#fe)"/>
<circle cx="377.30" cy="412.80" r="3.4" fill="url(#fe)"/>
<circle cx="377.30" cy="464.80" r="3.4" fill="url(#fe)"/>
<circle cx="392.30" cy="359.60" r="3.4" fill="url(#fe)"/>
<circle cx="392.30" cy="414.00" r="3.4" fill="url(#fe)"/>
<circle cx="392.30" cy="463.60" r="3.4" fill="url(#fe)"/>
<circle cx="407.50" cy="362.50" r="3.4" fill="url(#fe)"/>
<circle cx="407.50" cy="411.20" r="3.4" fill="url(#fe)"/>
<circle cx="407.50" cy="466.50" r="3.4" fill="url(#fe)"/>
<circle cx="422.40" cy="360.80" r="3.4" fill="url(#fe)"/>
<circle cx="422.40" cy="412.80" r="3.4" fill="url(#fe)"/>
<circle cx="422.40" cy="464.80" r="3.4" fill="url(#fe)"/>
<circle cx="437.60" cy="359.60" r="3.4" fill="url(#fe)"/>
<circle cx="437.60" cy="414.00" r="3.4" fill="url(#fe)"/>
<circle cx="437.60" cy="463.60" r="3.4" fill="url(#fe)"/>
<circle cx="452.50" cy="362.50" r="3.4" fill="url(#fe)"/>
<circle cx="452.50" cy="411.20" r="3.4" fill="url(#fe)"/>
<circle cx="452.50" cy="466.50" r="3.4" fill="url(#fe)"/>
<circle cx="467.70" cy="360.80" r="3.4" fill="url(#fe)"/>
<circle cx="467.70" cy="412.80" r="3.4" fill="url(#fe)"/>
<circle cx="467.70" cy="464.80" r="3.4" fill="url(#fe)"/>
<circle cx="482.70" cy="359.60" r="3.4" fill="url(#fe)"/>
<circle cx="482.70" cy="414.00" r="3.4" fill="url(#fe)"/>
<circle cx="482.70" cy="463.60" r="3.4" fill="url(#fe)"/>
<circle cx="497.30" cy="362.50" r="3.4" fill="url(#fe)"/>
<circle cx="497.30" cy="411.20" r="3.4" fill="url(#fe)"/>
<circle cx="497.30" cy="466.50" r="3.4" fill="url(#fe)"/>
<circle cx="344.50" cy="387.10" r="3.4" fill="url(#fe)"/>
<circle cx="497.50" cy="387.10" r="3.4" fill="url(#fe)"/>
<circle cx="347.20" cy="439.00" r="3.4" fill="url(#fe)"/>
<circle cx="500.00" cy="439.20" r="3.4" fill="url(#fe)"/>
<circle cx="407.50" cy="372.80" r="3.4" fill="url(#fe)"/>
<circle cx="407.50" cy="387.10" r="3.4" fill="url(#fe)"/>
<circle cx="407.50" cy="401.10" r="3.4" fill="url(#fe)"/>
<circle cx="437.60" cy="424.80" r="3.4" fill="url(#fe)"/>
<circle cx="437.60" cy="439.00" r="3.4" fill="url(#fe)"/>
<circle cx="437.60" cy="453.30" r="3.4" fill="url(#fe)"/>
<circle cx="377.30" cy="386.90" r="6.3" fill="url(#ho)"/>
<circle cx="380.60" cy="386.90" r="3.4" fill="url(#fe)"/>
<circle cx="437.30" cy="386.90" r="6.3" fill="url(#ho)"/>
<circle cx="435.00" cy="386.90" r="3.4" fill="url(#fe)"/>
<circle cx="467.20" cy="386.90" r="6.3" fill="url(#ho)"/>
<circle cx="471.10" cy="386.90" r="3.4" fill="url(#fe)"/>
<circle cx="377.30" cy="439.00" r="6.3" fill="url(#ho)"/>
<circle cx="374.00" cy="439.00" r="3.4" fill="url(#fe)"/>
<circle cx="407.00" cy="439.00" r="6.3" fill="url(#ho)"/>
<circle cx="410.00" cy="439.00" r="3.4" fill="url(#fe)"/>
<circle cx="467.60" cy="439.00" r="6.3" fill="url(#ho)"/>
<circle cx="464.30" cy="439.00" r="3.4" fill="url(#fe)"/>
<line x1="326.5" y1="483.8" x2="326.5" y2="462.8" stroke="#1414d0" stroke-width="2.5"/><path d="M322.7,464.3 L326.5,454.3 L330.3,464.3 Z" fill="#1414d0"/>
<line x1="326.5" y1="483.8" x2="344.3" y2="483.8" stroke="#22c322" stroke-width="2.5"/><path d="M342.8,480.2 L352.3,483.8 L342.8,487.40000000000003 Z" fill="#22c322"/>
<circle cx="326.5" cy="483.8" r="3.7" fill="#8b0000"/>
<text x="320.6" y="451.6" font-size="19.5" textLength="9.3" lengthAdjust="spacingAndGlyphs" >c</text>
<text x="353.6" y="488.8" font-size="20.5" textLength="9.8" lengthAdjust="spacingAndGlyphs" >a</text>
<text x="282.4" y="515.6" font-size="21" textLength="80.5" lengthAdjust="spacingAndGlyphs" >H phase</text>
<line x1="534.25" y1="356.25" x2="534.25" y2="465" stroke="#dcdcdc" stroke-width="0.9"/>
<line x1="570.5" y1="356.25" x2="570.5" y2="465" stroke="#dcdcdc" stroke-width="0.9"/>
<line x1="606.75" y1="356.25" x2="606.75" y2="465" stroke="#dcdcdc" stroke-width="0.9"/>
<line x1="643" y1="356.25" x2="643" y2="465" stroke="#dcdcdc" stroke-width="0.9"/>
<line x1="534.25" y1="356.25" x2="643" y2="356.25" stroke="#dcdcdc" stroke-width="0.9"/>
<line x1="534.25" y1="392.5" x2="643" y2="392.5" stroke="#dcdcdc" stroke-width="0.9"/>
<line x1="534.25" y1="428.75" x2="643" y2="428.75" stroke="#dcdcdc" stroke-width="0.9"/>
<line x1="534.25" y1="465" x2="643" y2="465" stroke="#dcdcdc" stroke-width="0.9"/>
<circle cx="534.25" cy="356.25" r="3.3" fill="url(#fe)"/>
<circle cx="534.25" cy="392.50" r="3.3" fill="url(#fe)"/>
<circle cx="534.25" cy="428.75" r="3.3" fill="url(#fe)"/>
<circle cx="534.25" cy="465.00" r="3.3" fill="url(#fe)"/>
<circle cx="570.50" cy="356.25" r="3.3" fill="url(#fe)"/>
<circle cx="570.50" cy="392.50" r="3.3" fill="url(#fe)"/>
<circle cx="570.50" cy="428.75" r="3.3" fill="url(#fe)"/>
<circle cx="570.50" cy="465.00" r="3.3" fill="url(#fe)"/>
<circle cx="606.75" cy="356.25" r="3.3" fill="url(#fe)"/>
<circle cx="606.75" cy="392.50" r="3.3" fill="url(#fe)"/>
<circle cx="606.75" cy="428.75" r="3.3" fill="url(#fe)"/>
<circle cx="606.75" cy="465.00" r="3.3" fill="url(#fe)"/>
<circle cx="643.00" cy="356.25" r="3.3" fill="url(#fe)"/>
<circle cx="643.00" cy="392.50" r="3.3" fill="url(#fe)"/>
<circle cx="643.00" cy="428.75" r="3.3" fill="url(#fe)"/>
<circle cx="643.00" cy="465.00" r="3.3" fill="url(#fe)"/>
<circle cx="552.38" cy="374.38" r="3.3" fill="url(#fe)"/>
<circle cx="552.38" cy="410.62" r="3.3" fill="url(#fe)"/>
<circle cx="552.38" cy="446.88" r="3.3" fill="url(#fe)"/>
<circle cx="588.62" cy="374.38" r="3.3" fill="url(#fe)"/>
<circle cx="588.62" cy="410.62" r="3.3" fill="url(#fe)"/>
<circle cx="588.62" cy="446.88" r="3.3" fill="url(#fe)"/>
<circle cx="624.88" cy="374.38" r="3.3" fill="url(#fe)"/>
<circle cx="624.88" cy="410.62" r="3.3" fill="url(#fe)"/>
<circle cx="624.88" cy="446.88" r="3.3" fill="url(#fe)"/>
<line x1="516" y1="484.2" x2="516" y2="463.2" stroke="#1414d0" stroke-width="2.5"/><path d="M512.2,464.7 L516,454.7 L519.8,464.7 Z" fill="#1414d0"/>
<line x1="516" y1="484.2" x2="537.4" y2="484.2" stroke="#22c322" stroke-width="2.5"/><path d="M535.9,480.59999999999997 L545.4,484.2 L535.9,487.8 Z" fill="#22c322"/>
<circle cx="516" cy="484.2" r="3.7" fill="#8b0000"/>
<text x="511.2" y="449.9" font-size="19.5" textLength="9.3" lengthAdjust="spacingAndGlyphs" >c</text>
<text x="549.6" y="489.6" font-size="20.5" textLength="9.8" lengthAdjust="spacingAndGlyphs" >a</text>
<text x="552.6" y="516.5" font-size="21" textLength="79.5" lengthAdjust="spacingAndGlyphs" >α phase</text>
<circle cx="535.00" cy="335.50" r="6.5" fill="url(#ho)"/>
<text x="548.3" y="341.3" font-size="20.6" textLength="27" lengthAdjust="spacingAndGlyphs" >Ho</text>
<circle cx="606.75" cy="335.00" r="3.2" fill="url(#fe)"/>
<text x="617.6" y="342.1" font-size="20.6" textLength="22.5" lengthAdjust="spacingAndGlyphs" >Fe</text>
</svg></body></html>
